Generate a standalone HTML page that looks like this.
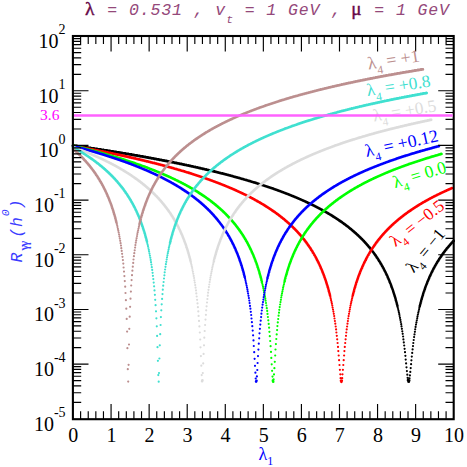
<!DOCTYPE html>
<html><head><meta charset="utf-8"><title>plot</title>
<style>
html,body{margin:0;padding:0;background:#fff;}
svg{display:block;}
text{font-family:"Liberation Serif",serif;}
.m{font-family:"Liberation Mono",monospace;font-style:italic;}
</style></head><body>
<svg width="467" height="467" viewBox="0 0 467 467">
<rect width="467" height="467" fill="#fff"/>
<g fill="none" stroke-width="2.7" stroke-linecap="round">
<path d="M73.0 145.6h0M73.4 145.7h0M73.8 145.7h0M74.1 145.8h0M74.5 145.8h0M74.9 145.9h0M75.3 145.9h0M75.7 146.0h0M76.0 146.1h0M76.4 146.1h0M76.8 146.2h0M77.2 146.2h0M77.6 146.3h0M77.9 146.3h0M78.3 146.4h0M78.7 146.4h0M79.1 146.5h0M79.5 146.5h0M79.9 146.6h0M80.2 146.7h0M80.6 146.7h0M81.0 146.8h0M81.4 146.8h0M81.8 146.9h0M82.1 146.9h0M82.5 147.0h0M82.9 147.0h0M83.3 147.1h0M83.7 147.2h0M84.0 147.2h0M84.4 147.3h0M84.8 147.3h0M85.2 147.4h0M85.6 147.4h0M85.9 147.5h0M86.3 147.5h0M86.7 147.6h0M87.1 147.7h0M87.5 147.7h0M87.8 147.8h0M88.2 147.8h0M88.6 147.9h0M89.0 147.9h0M89.4 148.0h0M89.8 148.1h0M90.1 148.1h0M90.5 148.2h0M90.9 148.2h0M91.3 148.3h0M91.7 148.3h0M92.0 148.4h0M92.4 148.5h0M92.8 148.5h0M93.2 148.6h0M93.6 148.6h0M93.9 148.7h0M94.3 148.7h0M94.7 148.8h0M95.1 148.9h0M95.5 148.9h0M95.8 149.0h0M96.2 149.0h0M96.6 149.1h0M97.0 149.1h0M97.4 149.2h0M97.7 149.3h0M98.1 149.3h0M98.5 149.4h0M98.9 149.4h0M99.3 149.5h0M99.6 149.6h0M100.0 149.6h0M100.4 149.7h0M100.8 149.7h0M101.2 149.8h0M101.6 149.8h0M101.9 149.9h0M102.3 150.0h0M102.7 150.0h0M103.1 150.1h0M103.5 150.1h0M103.8 150.2h0M104.2 150.3h0M104.6 150.3h0M105.0 150.4h0M105.4 150.4h0M105.7 150.5h0M106.1 150.6h0M106.5 150.6h0M106.9 150.7h0M107.3 150.7h0M107.6 150.8h0M108.0 150.9h0M108.4 150.9h0M108.8 151.0h0M109.2 151.0h0M109.5 151.1h0M109.9 151.2h0M110.3 151.2h0M110.7 151.3h0M111.1 151.3h0M111.5 151.4h0M111.8 151.5h0M112.2 151.5h0M112.6 151.6h0M113.0 151.6h0M113.4 151.7h0M113.7 151.8h0M114.1 151.8h0M114.5 151.9h0M114.9 152.0h0M115.3 152.0h0M115.6 152.1h0M116.0 152.1h0M116.4 152.2h0M116.8 152.3h0M117.2 152.3h0M117.5 152.4h0M117.9 152.4h0M118.3 152.5h0M118.7 152.6h0M119.1 152.6h0M119.4 152.7h0M119.8 152.8h0M120.2 152.8h0M120.6 152.9h0M121.0 152.9h0M121.3 153.0h0M121.7 153.1h0M122.1 153.1h0M122.5 153.2h0M122.9 153.3h0M123.3 153.3h0M123.6 153.4h0M124.0 153.5h0M124.4 153.5h0M124.8 153.6h0M125.2 153.6h0M125.5 153.7h0M125.9 153.8h0M126.3 153.8h0M126.7 153.9h0M127.1 154.0h0M127.4 154.0h0M127.8 154.1h0M128.2 154.2h0M128.6 154.2h0M129.0 154.3h0M129.3 154.3h0M129.7 154.4h0M130.1 154.5h0M130.5 154.5h0M130.9 154.6h0M131.2 154.7h0M131.6 154.7h0M132.0 154.8h0M132.4 154.9h0M132.8 154.9h0M133.2 155.0h0M133.5 155.1h0M133.9 155.1h0M134.3 155.2h0M134.7 155.3h0M135.1 155.3h0M135.4 155.4h0M135.8 155.5h0M136.2 155.5h0M136.6 155.6h0M137.0 155.7h0M137.3 155.7h0M137.7 155.8h0M138.1 155.9h0M138.5 155.9h0M138.9 156.0h0M139.2 156.1h0M139.6 156.1h0M140.0 156.2h0M140.4 156.3h0M140.8 156.3h0M141.1 156.4h0M141.5 156.5h0M141.9 156.5h0M142.3 156.6h0M142.7 156.7h0M143.0 156.7h0M143.4 156.8h0M143.8 156.9h0M144.2 156.9h0M144.6 157.0h0M145.0 157.1h0M145.3 157.1h0M145.7 157.2h0M146.1 157.3h0M146.5 157.4h0M146.9 157.4h0M147.2 157.5h0M147.6 157.6h0M148.0 157.6h0M148.4 157.7h0M148.8 157.8h0M149.1 157.8h0M149.5 157.9h0M149.9 158.0h0M150.3 158.0h0M150.7 158.1h0M151.0 158.2h0M151.4 158.3h0M151.8 158.3h0M152.2 158.4h0M152.6 158.5h0M152.9 158.5h0M153.3 158.6h0M153.7 158.7h0M154.1 158.8h0M154.5 158.8h0M154.9 158.9h0M155.2 159.0h0M155.6 159.0h0M156.0 159.1h0M156.4 159.2h0M156.8 159.3h0M157.1 159.3h0M157.5 159.4h0M157.9 159.5h0M158.3 159.5h0M158.7 159.6h0M159.0 159.7h0M159.4 159.8h0M159.8 159.8h0M160.2 159.9h0M160.6 160.0h0M160.9 160.0h0M161.3 160.1h0M161.7 160.2h0M162.1 160.3h0M162.5 160.3h0M162.8 160.4h0M163.2 160.5h0M163.6 160.6h0M164.0 160.6h0M164.4 160.7h0M164.7 160.8h0M165.1 160.9h0M165.5 160.9h0M165.9 161.0h0M166.3 161.1h0M166.7 161.2h0M167.0 161.2h0M167.4 161.3h0M167.8 161.4h0M168.2 161.5h0M168.6 161.5h0M168.9 161.6h0M169.3 161.7h0M169.7 161.8h0M170.1 161.8h0M170.5 161.9h0M170.8 162.0h0M171.2 162.1h0M171.6 162.1h0M172.0 162.2h0M172.4 162.3h0M172.7 162.4h0M173.1 162.4h0M173.5 162.5h0M173.9 162.6h0M174.3 162.7h0M174.6 162.8h0M175.0 162.8h0M175.4 162.9h0M175.8 163.0h0M176.2 163.1h0M176.6 163.1h0M176.9 163.2h0M177.3 163.3h0M177.7 163.4h0M178.1 163.5h0M178.5 163.5h0M178.8 163.6h0M179.2 163.7h0M179.6 163.8h0M180.0 163.8h0M180.4 163.9h0M180.7 164.0h0M181.1 164.1h0M181.5 164.2h0M181.9 164.2h0M182.3 164.3h0M182.6 164.4h0M183.0 164.5h0M183.4 164.6h0M183.8 164.6h0M184.2 164.7h0M184.5 164.8h0M184.9 164.9h0M185.3 165.0h0M185.7 165.0h0M186.1 165.1h0M186.4 165.2h0M186.8 165.3h0M187.2 165.4h0M187.6 165.5h0M188.0 165.5h0M188.4 165.6h0M188.7 165.7h0M189.1 165.8h0M189.5 165.9h0M189.9 165.9h0M190.3 166.0h0M190.6 166.1h0M191.0 166.2h0M191.4 166.3h0M191.8 166.4h0M192.2 166.4h0M192.5 166.5h0M192.9 166.6h0M193.3 166.7h0M193.7 166.8h0M194.1 166.9h0M194.4 167.0h0M194.8 167.0h0M195.2 167.1h0M195.6 167.2h0M196.0 167.3h0M196.3 167.4h0M196.7 167.5h0M197.1 167.5h0M197.5 167.6h0M197.9 167.7h0M198.3 167.8h0M198.6 167.9h0M199.0 168.0h0M199.4 168.1h0M199.8 168.1h0M200.2 168.2h0M200.5 168.3h0M200.9 168.4h0M201.3 168.5h0M201.7 168.6h0M202.1 168.7h0M202.4 168.8h0M202.8 168.8h0M203.2 168.9h0M203.6 169.0h0M204.0 169.1h0M204.3 169.2h0M204.7 169.3h0M205.1 169.4h0M205.5 169.5h0M205.9 169.6h0M206.2 169.6h0M206.6 169.7h0M207.0 169.8h0M207.4 169.9h0M207.8 170.0h0M208.1 170.1h0M208.5 170.2h0M208.9 170.3h0M209.3 170.4h0M209.7 170.5h0M210.1 170.5h0M210.4 170.6h0M210.8 170.7h0M211.2 170.8h0M211.6 170.9h0M212.0 171.0h0M212.3 171.1h0M212.7 171.2h0M213.1 171.3h0M213.5 171.4h0M213.9 171.5h0M214.2 171.6h0M214.6 171.6h0M215.0 171.7h0M215.4 171.8h0M215.8 171.9h0M216.1 172.0h0M216.5 172.1h0M216.9 172.2h0M217.3 172.3h0M217.7 172.4h0M218.0 172.5h0M218.4 172.6h0M218.8 172.7h0M219.2 172.8h0M219.6 172.9h0M220.0 173.0h0M220.3 173.1h0M220.7 173.2h0M221.1 173.3h0M221.5 173.4h0M221.9 173.5h0M222.2 173.5h0M222.6 173.6h0M223.0 173.7h0M223.4 173.8h0M223.8 173.9h0M224.1 174.0h0M224.5 174.1h0M224.9 174.2h0M225.3 174.3h0M225.7 174.4h0M226.0 174.5h0M226.4 174.6h0M226.8 174.7h0M227.2 174.8h0M227.6 174.9h0M227.9 175.0h0M228.3 175.1h0M228.7 175.2h0M229.1 175.3h0M229.5 175.4h0M229.8 175.5h0M230.2 175.6h0M230.6 175.7h0M231.0 175.8h0M231.4 175.9h0M231.8 176.0h0M232.1 176.1h0M232.5 176.2h0M232.9 176.3h0M233.3 176.4h0M233.7 176.6h0M234.0 176.7h0M234.4 176.8h0M234.8 176.9h0M235.2 177.0h0M235.6 177.1h0M235.9 177.2h0M236.3 177.3h0M236.7 177.4h0M237.1 177.5h0M237.5 177.6h0M237.8 177.7h0M238.2 177.8h0M238.6 177.9h0M239.0 178.0h0M239.4 178.1h0M239.7 178.2h0M240.1 178.3h0M240.5 178.4h0M240.9 178.6h0M241.3 178.7h0M241.7 178.8h0M242.0 178.9h0M242.4 179.0h0M242.8 179.1h0M243.2 179.2h0M243.6 179.3h0M243.9 179.4h0M244.3 179.5h0M244.7 179.6h0M245.1 179.8h0M245.5 179.9h0M245.8 180.0h0M246.2 180.1h0M246.6 180.2h0M247.0 180.3h0M247.4 180.4h0M247.7 180.5h0M248.1 180.6h0M248.5 180.8h0M248.9 180.9h0M249.3 181.0h0M249.6 181.1h0M250.0 181.2h0M250.4 181.3h0M250.8 181.4h0M251.2 181.6h0M251.5 181.7h0M251.9 181.8h0M252.3 181.9h0M252.7 182.0h0M253.1 182.1h0M253.5 182.3h0M253.8 182.4h0M254.2 182.5h0M254.6 182.6h0M255.0 182.7h0M255.4 182.8h0M255.7 183.0h0M256.1 183.1h0M256.5 183.2h0M256.9 183.3h0M257.3 183.4h0M257.6 183.6h0M258.0 183.7h0M258.4 183.8h0M258.8 183.9h0M259.2 184.0h0M259.5 184.2h0M259.9 184.3h0M260.3 184.4h0M260.7 184.5h0M261.1 184.6h0M261.4 184.8h0M261.8 184.9h0M262.2 185.0h0M262.6 185.1h0M263.0 185.3h0M263.4 185.4h0M263.7 185.5h0M264.1 185.6h0M264.5 185.8h0M264.9 185.9h0M265.3 186.0h0M265.6 186.1h0M266.0 186.3h0M266.4 186.4h0M266.8 186.5h0M267.2 186.6h0M267.5 186.8h0M267.9 186.9h0M268.3 187.0h0M268.7 187.2h0M269.1 187.3h0M269.4 187.4h0M269.8 187.5h0M270.2 187.7h0M270.6 187.8h0M271.0 187.9h0M271.3 188.1h0M271.7 188.2h0M272.1 188.3h0M272.5 188.5h0M272.9 188.6h0M273.2 188.7h0M273.6 188.9h0M274.0 189.0h0M274.4 189.1h0M274.8 189.3h0M275.2 189.4h0M275.5 189.5h0M275.9 189.7h0M276.3 189.8h0M276.7 189.9h0M277.1 190.1h0M277.4 190.2h0M277.8 190.4h0M278.2 190.5h0M278.6 190.6h0M279.0 190.8h0M279.3 190.9h0M279.7 191.1h0M280.1 191.2h0M280.5 191.3h0M280.9 191.5h0M281.2 191.6h0M281.6 191.8h0M282.0 191.9h0M282.4 192.0h0M282.8 192.2h0M283.1 192.3h0M283.5 192.5h0M283.9 192.6h0M284.3 192.8h0M284.7 192.9h0M285.0 193.1h0M285.4 193.2h0M285.8 193.4h0M286.2 193.5h0M286.6 193.6h0M287.0 193.8h0M287.3 193.9h0M287.7 194.1h0M288.1 194.2h0M288.5 194.4h0M288.9 194.5h0M289.2 194.7h0M289.6 194.8h0M290.0 195.0h0M290.4 195.2h0M290.8 195.3h0M291.1 195.5h0M291.5 195.6h0M291.9 195.8h0M292.3 195.9h0M292.7 196.1h0M293.0 196.2h0M293.4 196.4h0M293.8 196.5h0M294.2 196.7h0M294.6 196.9h0M294.9 197.0h0M295.3 197.2h0M295.7 197.3h0M296.1 197.5h0M296.5 197.7h0M296.9 197.8h0M297.2 198.0h0M297.6 198.2h0M298.0 198.3h0M298.4 198.5h0M298.8 198.6h0M299.1 198.8h0M299.5 199.0h0M299.9 199.1h0M300.3 199.3h0M300.7 199.5h0M301.0 199.6h0M301.4 199.8h0M301.8 200.0h0M302.2 200.1h0M302.6 200.3h0M302.9 200.5h0M303.3 200.7h0M303.7 200.8h0M304.1 201.0h0M304.5 201.2h0M304.8 201.3h0M305.2 201.5h0M305.6 201.7h0M306.0 201.9h0M306.4 202.1h0M306.7 202.2h0M307.1 202.4h0M307.5 202.6h0M307.9 202.8h0M308.3 202.9h0M308.7 203.1h0M309.0 203.3h0M309.4 203.5h0M309.8 203.7h0M310.2 203.9h0M310.6 204.0h0M310.9 204.2h0M311.3 204.4h0M311.7 204.6h0M312.1 204.8h0M312.5 205.0h0M312.8 205.2h0M313.2 205.3h0M313.6 205.5h0M314.0 205.7h0M314.4 205.9h0M314.7 206.1h0M315.1 206.3h0M315.5 206.5h0M315.9 206.7h0M316.3 206.9h0M316.6 207.1h0M317.0 207.3h0M317.4 207.5h0M317.8 207.7h0M318.2 207.9h0M318.6 208.1h0M318.9 208.3h0M319.3 208.5h0M319.7 208.7h0M320.1 208.9h0M320.5 209.1h0M320.8 209.3h0M321.2 209.5h0M321.6 209.7h0M322.0 209.9h0M322.4 210.1h0M322.7 210.3h0M323.1 210.5h0M323.5 210.8h0M323.9 211.0h0M324.3 211.2h0M324.6 211.4h0M325.0 211.6h0M325.4 211.8h0M325.8 212.0h0M326.2 212.3h0M326.5 212.5h0M326.9 212.7h0M327.3 212.9h0M327.7 213.1h0M328.1 213.4h0M328.4 213.6h0M328.8 213.8h0M329.2 214.0h0M329.6 214.3h0M330.0 214.5h0M330.4 214.7h0M330.7 215.0h0M331.1 215.2h0M331.5 215.4h0M331.9 215.7h0M332.3 215.9h0M332.6 216.1h0M333.0 216.4h0M333.4 216.6h0M333.8 216.9h0M334.2 217.1h0M334.5 217.3h0M334.9 217.6h0M335.3 217.8h0M335.7 218.1h0M336.1 218.3h0M336.4 218.6h0M336.8 218.8h0M337.2 219.1h0M337.6 219.3h0M338.0 219.6h0M338.3 219.8h0M338.7 220.1h0M339.1 220.4h0M339.5 220.6h0M339.9 220.9h0M340.3 221.1h0M340.6 221.4h0M341.0 221.7h0M341.4 221.9h0M341.8 222.2h0M342.2 222.5h0M342.5 222.8h0M342.9 223.0h0M343.3 223.3h0M343.7 223.6h0M344.1 223.9h0M344.4 224.1h0M344.8 224.4h0M345.2 224.7h0M345.6 225.0h0M346.0 225.3h0M346.3 225.6h0M346.7 225.9h0M347.1 226.2h0M347.5 226.5h0M347.9 226.7h0M348.2 227.0h0M348.6 227.3h0M349.0 227.6h0M349.4 228.0h0M349.8 228.3h0M350.1 228.6h0M350.5 228.9h0M350.9 229.2h0M351.3 229.5h0M351.7 229.8h0M352.1 230.1h0M352.4 230.5h0M352.8 230.8h0M353.2 231.1h0M353.6 231.4h0M354.0 231.8h0M354.3 232.1h0M354.7 232.4h0M355.1 232.8h0M355.5 233.1h0M355.9 233.4h0M356.2 233.8h0M356.6 234.1h0M357.0 234.5h0M357.4 234.8h0M357.8 235.2h0M358.1 235.5h0M358.5 235.9h0M358.9 236.3h0M359.3 236.6h0M359.7 237.0h0M360.0 237.4h0M360.4 237.7h0M360.8 238.1h0M361.2 238.5h0M361.6 238.9h0M362.0 239.2h0M362.3 239.6h0M362.7 240.0h0M363.1 240.4h0M363.5 240.8h0M363.9 241.2h0M364.2 241.6h0M364.6 242.0h0M365.0 242.4h0M365.4 242.9h0M365.8 243.3h0M366.1 243.7h0M366.5 244.1h0M366.9 244.6h0M367.3 245.0h0M367.7 245.4h0M368.0 245.9h0M368.4 246.3h0M368.8 246.8h0M369.2 247.2h0M369.6 247.7h0M369.9 248.1h0M370.3 248.6h0M370.7 249.1h0M371.1 249.6h0M371.5 250.0h0M371.8 250.5h0M372.2 251.0h0M372.6 251.5h0M373.0 252.0h0M373.4 252.5h0M373.8 253.0h0M374.1 253.6h0M374.5 254.1h0M374.9 254.6h0M375.3 255.2h0M375.7 255.7h0M376.0 256.2h0M376.4 256.8h0M376.8 257.4h0M377.2 257.9h0M377.6 258.5h0M377.9 259.1h0M378.3 259.7h0M378.7 260.3h0M379.1 260.9h0M379.5 261.5h0M379.8 262.1h0M380.2 262.7h0M380.6 263.4h0M381.0 264.0h0M381.4 264.7h0M381.7 265.3h0M382.1 266.0h0M382.5 266.7h0M382.9 267.4h0M383.3 268.1h0M383.7 268.8h0M384.0 269.5h0M384.4 270.3h0M384.8 271.0h0M385.2 271.8h0M385.6 272.5h0M385.9 273.3h0M386.3 274.1h0M386.7 274.9h0M387.1 275.7h0M387.5 276.6h0M387.8 277.4h0M388.2 278.3h0M388.6 279.2h0M389.0 280.1h0M389.4 281.0h0M389.7 281.9h0M390.1 282.9h0M390.5 283.8h0M390.9 284.8h0M391.3 285.9h0M391.6 286.9h0M392.0 287.9h0M392.4 289.0h0M392.8 290.1h0M393.2 291.3h0M393.5 292.4h0M393.9 293.6h0M394.3 294.8h0M394.7 296.1h0M395.1 297.3h0M395.5 298.7h0M395.8 300.0h0M396.2 301.4h0M396.6 302.8h0M397.0 304.3h0M397.4 305.8h0M408.0 380.2h0M408.4 381.6h0M408.8 381.7h0M409.2 380.6h0M419.8 306.1h0M420.2 304.6h0M420.6 303.1h0M421.0 301.7h0M421.3 300.3h0M421.7 298.9h0M422.1 297.6h0M422.5 296.3h0M422.9 295.1h0M423.2 293.8h0M423.6 292.6h0M424.0 291.5h0M424.4 290.4h0M424.8 289.2h0M425.1 288.2h0M425.5 287.1h0M425.9 286.1h0M426.3 285.0h0M426.7 284.0h0M427.1 283.1h0M427.4 282.1h0M427.8 281.2h0M428.2 280.3h0M428.6 279.4h0M429.0 278.5h0M429.3 277.6h0M429.7 276.7h0M430.1 275.9h0M430.5 275.1h0M430.9 274.3h0M431.2 273.5h0M431.6 272.7h0M432.0 271.9h0M432.4 271.2h0M432.8 270.4h0M433.1 269.7h0M433.5 268.9h0M433.9 268.2h0M434.3 267.5h0M434.7 266.8h0M435.0 266.1h0M435.4 265.5h0M435.8 264.8h0M436.2 264.2h0M436.6 263.5h0M436.9 262.9h0M437.3 262.2h0M437.7 261.6h0M438.1 261.0h0M438.5 260.4h0M438.9 259.8h0M439.2 259.2h0M439.6 258.6h0M440.0 258.0h0M440.4 257.5h0M440.8 256.9h0M441.1 256.4h0M441.5 255.8h0M441.9 255.3h0M442.3 254.7h0M442.7 254.2h0M443.0 253.7h0M443.4 253.1h0M443.8 252.6h0M444.2 252.1h0M444.6 251.6h0M444.9 251.1h0M445.3 250.6h0M445.7 250.1h0M446.1 249.7h0M446.5 249.2h0M446.8 248.7h0M447.2 248.2h0M447.6 247.8h0M448.0 247.3h0M448.4 246.9h0M448.8 246.4h0M449.1 246.0h0M449.5 245.5h0M449.9 245.1h0M450.3 244.6h0M450.7 244.2h0M451.0 243.8h0M451.4 243.4h0M451.8 242.9h0M452.2 242.5h0M452.6 242.1h0M452.9 241.7h0M453.3 241.3h0M453.7 240.9h0" stroke="#000000"/>
<path d="M397.7 307.4h0M398.1 309.0h0M398.5 310.7h0M398.9 312.4h0M399.3 314.2h0M399.6 316.0h0M400.0 317.9h0M400.4 319.9h0M400.8 322.0h0M401.2 324.2h0M401.5 326.4h0M401.9 328.8h0M402.3 331.3h0M402.7 333.8h0M403.1 336.5h0M403.4 339.4h0M403.8 342.4h0M404.2 345.5h0M404.6 348.8h0M405.0 352.2h0M405.4 355.8h0M405.7 359.6h0M406.1 363.4h0M406.5 367.3h0M406.9 371.1h0M407.3 374.7h0M407.6 377.8h0M409.5 378.4h0M409.9 375.4h0M410.3 371.9h0M410.7 368.1h0M411.1 364.2h0M411.4 360.3h0M411.8 356.6h0M412.2 352.9h0M412.6 349.4h0M413.0 346.1h0M413.3 343.0h0M413.7 340.0h0M414.1 337.1h0M414.5 334.4h0M414.9 331.8h0M415.2 329.3h0M415.6 326.9h0M416.0 324.6h0M416.4 322.4h0M416.8 320.3h0M417.2 318.3h0M417.5 316.4h0M417.9 314.5h0M418.3 312.7h0M418.7 311.0h0M419.1 309.3h0M419.4 307.7h0" stroke="#000000" stroke-width="2.2"/>
<path d="M73.0 146.1h0M73.4 146.1h0M73.8 146.2h0M74.1 146.3h0M74.5 146.3h0M74.9 146.4h0M75.3 146.5h0M75.7 146.5h0M76.0 146.6h0M76.4 146.7h0M76.8 146.7h0M77.2 146.8h0M77.6 146.9h0M77.9 146.9h0M78.3 147.0h0M78.7 147.1h0M79.1 147.2h0M79.5 147.2h0M79.9 147.3h0M80.2 147.4h0M80.6 147.4h0M81.0 147.5h0M81.4 147.6h0M81.8 147.6h0M82.1 147.7h0M82.5 147.8h0M82.9 147.8h0M83.3 147.9h0M83.7 148.0h0M84.0 148.1h0M84.4 148.1h0M84.8 148.2h0M85.2 148.3h0M85.6 148.3h0M85.9 148.4h0M86.3 148.5h0M86.7 148.6h0M87.1 148.6h0M87.5 148.7h0M87.8 148.8h0M88.2 148.8h0M88.6 148.9h0M89.0 149.0h0M89.4 149.1h0M89.8 149.1h0M90.1 149.2h0M90.5 149.3h0M90.9 149.3h0M91.3 149.4h0M91.7 149.5h0M92.0 149.6h0M92.4 149.6h0M92.8 149.7h0M93.2 149.8h0M93.6 149.8h0M93.9 149.9h0M94.3 150.0h0M94.7 150.1h0M95.1 150.1h0M95.5 150.2h0M95.8 150.3h0M96.2 150.4h0M96.6 150.4h0M97.0 150.5h0M97.4 150.6h0M97.7 150.7h0M98.1 150.7h0M98.5 150.8h0M98.9 150.9h0M99.3 151.0h0M99.6 151.0h0M100.0 151.1h0M100.4 151.2h0M100.8 151.3h0M101.2 151.3h0M101.6 151.4h0M101.9 151.5h0M102.3 151.6h0M102.7 151.6h0M103.1 151.7h0M103.5 151.8h0M103.8 151.9h0M104.2 151.9h0M104.6 152.0h0M105.0 152.1h0M105.4 152.2h0M105.7 152.2h0M106.1 152.3h0M106.5 152.4h0M106.9 152.5h0M107.3 152.5h0M107.6 152.6h0M108.0 152.7h0M108.4 152.8h0M108.8 152.9h0M109.2 152.9h0M109.5 153.0h0M109.9 153.1h0M110.3 153.2h0M110.7 153.2h0M111.1 153.3h0M111.5 153.4h0M111.8 153.5h0M112.2 153.6h0M112.6 153.6h0M113.0 153.7h0M113.4 153.8h0M113.7 153.9h0M114.1 154.0h0M114.5 154.0h0M114.9 154.1h0M115.3 154.2h0M115.6 154.3h0M116.0 154.4h0M116.4 154.4h0M116.8 154.5h0M117.2 154.6h0M117.5 154.7h0M117.9 154.8h0M118.3 154.8h0M118.7 154.9h0M119.1 155.0h0M119.4 155.1h0M119.8 155.2h0M120.2 155.2h0M120.6 155.3h0M121.0 155.4h0M121.3 155.5h0M121.7 155.6h0M122.1 155.7h0M122.5 155.7h0M122.9 155.8h0M123.3 155.9h0M123.6 156.0h0M124.0 156.1h0M124.4 156.2h0M124.8 156.2h0M125.2 156.3h0M125.5 156.4h0M125.9 156.5h0M126.3 156.6h0M126.7 156.7h0M127.1 156.7h0M127.4 156.8h0M127.8 156.9h0M128.2 157.0h0M128.6 157.1h0M129.0 157.2h0M129.3 157.3h0M129.7 157.3h0M130.1 157.4h0M130.5 157.5h0M130.9 157.6h0M131.2 157.7h0M131.6 157.8h0M132.0 157.9h0M132.4 157.9h0M132.8 158.0h0M133.2 158.1h0M133.5 158.2h0M133.9 158.3h0M134.3 158.4h0M134.7 158.5h0M135.1 158.5h0M135.4 158.6h0M135.8 158.7h0M136.2 158.8h0M136.6 158.9h0M137.0 159.0h0M137.3 159.1h0M137.7 159.2h0M138.1 159.3h0M138.5 159.3h0M138.9 159.4h0M139.2 159.5h0M139.6 159.6h0M140.0 159.7h0M140.4 159.8h0M140.8 159.9h0M141.1 160.0h0M141.5 160.1h0M141.9 160.2h0M142.3 160.2h0M142.7 160.3h0M143.0 160.4h0M143.4 160.5h0M143.8 160.6h0M144.2 160.7h0M144.6 160.8h0M145.0 160.9h0M145.3 161.0h0M145.7 161.1h0M146.1 161.2h0M146.5 161.3h0M146.9 161.3h0M147.2 161.4h0M147.6 161.5h0M148.0 161.6h0M148.4 161.7h0M148.8 161.8h0M149.1 161.9h0M149.5 162.0h0M149.9 162.1h0M150.3 162.2h0M150.7 162.3h0M151.0 162.4h0M151.4 162.5h0M151.8 162.6h0M152.2 162.7h0M152.6 162.8h0M152.9 162.9h0M153.3 163.0h0M153.7 163.0h0M154.1 163.1h0M154.5 163.2h0M154.9 163.3h0M155.2 163.4h0M155.6 163.5h0M156.0 163.6h0M156.4 163.7h0M156.8 163.8h0M157.1 163.9h0M157.5 164.0h0M157.9 164.1h0M158.3 164.2h0M158.7 164.3h0M159.0 164.4h0M159.4 164.5h0M159.8 164.6h0M160.2 164.7h0M160.6 164.8h0M160.9 164.9h0M161.3 165.0h0M161.7 165.1h0M162.1 165.2h0M162.5 165.3h0M162.8 165.4h0M163.2 165.5h0M163.6 165.6h0M164.0 165.7h0M164.4 165.8h0M164.7 165.9h0M165.1 166.0h0M165.5 166.1h0M165.9 166.2h0M166.3 166.3h0M166.7 166.4h0M167.0 166.5h0M167.4 166.6h0M167.8 166.8h0M168.2 166.9h0M168.6 167.0h0M168.9 167.1h0M169.3 167.2h0M169.7 167.3h0M170.1 167.4h0M170.5 167.5h0M170.8 167.6h0M171.2 167.7h0M171.6 167.8h0M172.0 167.9h0M172.4 168.0h0M172.7 168.1h0M173.1 168.2h0M173.5 168.3h0M173.9 168.4h0M174.3 168.6h0M174.6 168.7h0M175.0 168.8h0M175.4 168.9h0M175.8 169.0h0M176.2 169.1h0M176.6 169.2h0M176.9 169.3h0M177.3 169.4h0M177.7 169.5h0M178.1 169.6h0M178.5 169.8h0M178.8 169.9h0M179.2 170.0h0M179.6 170.1h0M180.0 170.2h0M180.4 170.3h0M180.7 170.4h0M181.1 170.5h0M181.5 170.7h0M181.9 170.8h0M182.3 170.9h0M182.6 171.0h0M183.0 171.1h0M183.4 171.2h0M183.8 171.3h0M184.2 171.5h0M184.5 171.6h0M184.9 171.7h0M185.3 171.8h0M185.7 171.9h0M186.1 172.0h0M186.4 172.1h0M186.8 172.3h0M187.2 172.4h0M187.6 172.5h0M188.0 172.6h0M188.4 172.7h0M188.7 172.9h0M189.1 173.0h0M189.5 173.1h0M189.9 173.2h0M190.3 173.3h0M190.6 173.5h0M191.0 173.6h0M191.4 173.7h0M191.8 173.8h0M192.2 173.9h0M192.5 174.1h0M192.9 174.2h0M193.3 174.3h0M193.7 174.4h0M194.1 174.5h0M194.4 174.7h0M194.8 174.8h0M195.2 174.9h0M195.6 175.0h0M196.0 175.2h0M196.3 175.3h0M196.7 175.4h0M197.1 175.5h0M197.5 175.7h0M197.9 175.8h0M198.3 175.9h0M198.6 176.0h0M199.0 176.2h0M199.4 176.3h0M199.8 176.4h0M200.2 176.5h0M200.5 176.7h0M200.9 176.8h0M201.3 176.9h0M201.7 177.1h0M202.1 177.2h0M202.4 177.3h0M202.8 177.5h0M203.2 177.6h0M203.6 177.7h0M204.0 177.8h0M204.3 178.0h0M204.7 178.1h0M205.1 178.2h0M205.5 178.4h0M205.9 178.5h0M206.2 178.6h0M206.6 178.8h0M207.0 178.9h0M207.4 179.0h0M207.8 179.2h0M208.1 179.3h0M208.5 179.4h0M208.9 179.6h0M209.3 179.7h0M209.7 179.9h0M210.1 180.0h0M210.4 180.1h0M210.8 180.3h0M211.2 180.4h0M211.6 180.5h0M212.0 180.7h0M212.3 180.8h0M212.7 181.0h0M213.1 181.1h0M213.5 181.3h0M213.9 181.4h0M214.2 181.5h0M214.6 181.7h0M215.0 181.8h0M215.4 182.0h0M215.8 182.1h0M216.1 182.3h0M216.5 182.4h0M216.9 182.5h0M217.3 182.7h0M217.7 182.8h0M218.0 183.0h0M218.4 183.1h0M218.8 183.3h0M219.2 183.4h0M219.6 183.6h0M220.0 183.7h0M220.3 183.9h0M220.7 184.0h0M221.1 184.2h0M221.5 184.3h0M221.9 184.5h0M222.2 184.6h0M222.6 184.8h0M223.0 184.9h0M223.4 185.1h0M223.8 185.2h0M224.1 185.4h0M224.5 185.5h0M224.9 185.7h0M225.3 185.8h0M225.7 186.0h0M226.0 186.2h0M226.4 186.3h0M226.8 186.5h0M227.2 186.6h0M227.6 186.8h0M227.9 186.9h0M228.3 187.1h0M228.7 187.3h0M229.1 187.4h0M229.5 187.6h0M229.8 187.8h0M230.2 187.9h0M230.6 188.1h0M231.0 188.2h0M231.4 188.4h0M231.8 188.6h0M232.1 188.7h0M232.5 188.9h0M232.9 189.1h0M233.3 189.2h0M233.7 189.4h0M234.0 189.6h0M234.4 189.7h0M234.8 189.9h0M235.2 190.1h0M235.6 190.2h0M235.9 190.4h0M236.3 190.6h0M236.7 190.8h0M237.1 190.9h0M237.5 191.1h0M237.8 191.3h0M238.2 191.5h0M238.6 191.6h0M239.0 191.8h0M239.4 192.0h0M239.7 192.2h0M240.1 192.3h0M240.5 192.5h0M240.9 192.7h0M241.3 192.9h0M241.7 193.1h0M242.0 193.2h0M242.4 193.4h0M242.8 193.6h0M243.2 193.8h0M243.6 194.0h0M243.9 194.2h0M244.3 194.3h0M244.7 194.5h0M245.1 194.7h0M245.5 194.9h0M245.8 195.1h0M246.2 195.3h0M246.6 195.5h0M247.0 195.7h0M247.4 195.9h0M247.7 196.1h0M248.1 196.2h0M248.5 196.4h0M248.9 196.6h0M249.3 196.8h0M249.6 197.0h0M250.0 197.2h0M250.4 197.4h0M250.8 197.6h0M251.2 197.8h0M251.5 198.0h0M251.9 198.2h0M252.3 198.4h0M252.7 198.6h0M253.1 198.8h0M253.5 199.0h0M253.8 199.2h0M254.2 199.5h0M254.6 199.7h0M255.0 199.9h0M255.4 200.1h0M255.7 200.3h0M256.1 200.5h0M256.5 200.7h0M256.9 200.9h0M257.3 201.1h0M257.6 201.4h0M258.0 201.6h0M258.4 201.8h0M258.8 202.0h0M259.2 202.2h0M259.5 202.4h0M259.9 202.7h0M260.3 202.9h0M260.7 203.1h0M261.1 203.3h0M261.4 203.6h0M261.8 203.8h0M262.2 204.0h0M262.6 204.2h0M263.0 204.5h0M263.4 204.7h0M263.7 204.9h0M264.1 205.2h0M264.5 205.4h0M264.9 205.6h0M265.3 205.9h0M265.6 206.1h0M266.0 206.4h0M266.4 206.6h0M266.8 206.8h0M267.2 207.1h0M267.5 207.3h0M267.9 207.6h0M268.3 207.8h0M268.7 208.1h0M269.1 208.3h0M269.4 208.6h0M269.8 208.8h0M270.2 209.1h0M270.6 209.3h0M271.0 209.6h0M271.3 209.8h0M271.7 210.1h0M272.1 210.4h0M272.5 210.6h0M272.9 210.9h0M273.2 211.1h0M273.6 211.4h0M274.0 211.7h0M274.4 211.9h0M274.8 212.2h0M275.2 212.5h0M275.5 212.8h0M275.9 213.0h0M276.3 213.3h0M276.7 213.6h0M277.1 213.9h0M277.4 214.2h0M277.8 214.4h0M278.2 214.7h0M278.6 215.0h0M279.0 215.3h0M279.3 215.6h0M279.7 215.9h0M280.1 216.2h0M280.5 216.5h0M280.9 216.8h0M281.2 217.1h0M281.6 217.4h0M282.0 217.7h0M282.4 218.0h0M282.8 218.3h0M283.1 218.6h0M283.5 218.9h0M283.9 219.2h0M284.3 219.5h0M284.7 219.8h0M285.0 220.2h0M285.4 220.5h0M285.8 220.8h0M286.2 221.1h0M286.6 221.5h0M287.0 221.8h0M287.3 222.1h0M287.7 222.5h0M288.1 222.8h0M288.5 223.1h0M288.9 223.5h0M289.2 223.8h0M289.6 224.2h0M290.0 224.5h0M290.4 224.9h0M290.8 225.2h0M291.1 225.6h0M291.5 226.0h0M291.9 226.3h0M292.3 226.7h0M292.7 227.0h0M293.0 227.4h0M293.4 227.8h0M293.8 228.2h0M294.2 228.6h0M294.6 228.9h0M294.9 229.3h0M295.3 229.7h0M295.7 230.1h0M296.1 230.5h0M296.5 230.9h0M296.9 231.3h0M297.2 231.7h0M297.6 232.1h0M298.0 232.5h0M298.4 233.0h0M298.8 233.4h0M299.1 233.8h0M299.5 234.2h0M299.9 234.7h0M300.3 235.1h0M300.7 235.5h0M301.0 236.0h0M301.4 236.4h0M301.8 236.9h0M302.2 237.3h0M302.6 237.8h0M302.9 238.3h0M303.3 238.8h0M303.7 239.2h0M304.1 239.7h0M304.5 240.2h0M304.8 240.7h0M305.2 241.2h0M305.6 241.7h0M306.0 242.2h0M306.4 242.7h0M306.7 243.2h0M307.1 243.7h0M307.5 244.3h0M307.9 244.8h0M308.3 245.3h0M308.7 245.9h0M309.0 246.4h0M309.4 247.0h0M309.8 247.6h0M310.2 248.1h0M310.6 248.7h0M310.9 249.3h0M311.3 249.9h0M311.7 250.5h0M312.1 251.1h0M312.5 251.7h0M312.8 252.4h0M313.2 253.0h0M313.6 253.6h0M314.0 254.3h0M314.4 255.0h0M314.7 255.6h0M315.1 256.3h0M315.5 257.0h0M315.9 257.7h0M316.3 258.4h0M316.6 259.1h0M317.0 259.9h0M317.4 260.6h0M317.8 261.4h0M318.2 262.1h0M318.6 262.9h0M318.9 263.7h0M319.3 264.5h0M319.7 265.3h0M320.1 266.2h0M320.5 267.0h0M320.8 267.9h0M321.2 268.8h0M321.6 269.6h0M322.0 270.6h0M322.4 271.5h0M322.7 272.4h0M323.1 273.4h0M323.5 274.4h0M323.9 275.4h0M324.3 276.4h0M324.6 277.5h0M325.0 278.6h0M325.4 279.7h0M325.8 280.8h0M326.2 282.0h0M326.5 283.1h0M326.9 284.4h0M327.3 285.6h0M327.7 286.9h0M328.1 288.2h0M328.4 289.5h0M328.8 290.9h0M329.2 292.4h0M329.6 293.8h0M330.0 295.3h0M341.0 380.8h0M341.4 381.8h0M341.8 380.8h0M352.8 295.3h0M353.2 293.8h0M353.6 292.4h0M354.0 290.9h0M354.3 289.5h0M354.7 288.2h0M355.1 286.9h0M355.5 285.6h0M355.9 284.4h0M356.2 283.1h0M356.6 282.0h0M357.0 280.8h0M357.4 279.7h0M357.8 278.6h0M358.1 277.5h0M358.5 276.4h0M358.9 275.4h0M359.3 274.4h0M359.7 273.4h0M360.0 272.4h0M360.4 271.5h0M360.8 270.6h0M361.2 269.6h0M361.6 268.8h0M362.0 267.9h0M362.3 267.0h0M362.7 266.2h0M363.1 265.3h0M363.5 264.5h0M363.9 263.7h0M364.2 262.9h0M364.6 262.1h0M365.0 261.4h0M365.4 260.6h0M365.8 259.9h0M366.1 259.1h0M366.5 258.4h0M366.9 257.7h0M367.3 257.0h0M367.7 256.3h0M368.0 255.6h0M368.4 255.0h0M368.8 254.3h0M369.2 253.6h0M369.6 253.0h0M369.9 252.4h0M370.3 251.7h0M370.7 251.1h0M371.1 250.5h0M371.5 249.9h0M371.8 249.3h0M372.2 248.7h0M372.6 248.1h0M373.0 247.6h0M373.4 247.0h0M373.8 246.4h0M374.1 245.9h0M374.5 245.3h0M374.9 244.8h0M375.3 244.3h0M375.7 243.7h0M376.0 243.2h0M376.4 242.7h0M376.8 242.2h0M377.2 241.7h0M377.6 241.2h0M377.9 240.7h0M378.3 240.2h0M378.7 239.7h0M379.1 239.2h0M379.5 238.8h0M379.8 238.3h0M380.2 237.8h0M380.6 237.3h0M381.0 236.9h0M381.4 236.4h0M381.7 236.0h0M382.1 235.5h0M382.5 235.1h0M382.9 234.7h0M383.3 234.2h0M383.7 233.8h0M384.0 233.4h0M384.4 233.0h0M384.8 232.5h0M385.2 232.1h0M385.6 231.7h0M385.9 231.3h0M386.3 230.9h0M386.7 230.5h0M387.1 230.1h0M387.5 229.7h0M387.8 229.3h0M388.2 228.9h0M388.6 228.6h0M389.0 228.2h0M389.4 227.8h0M389.7 227.4h0M390.1 227.0h0M390.5 226.7h0M390.9 226.3h0M391.3 226.0h0M391.6 225.6h0M392.0 225.2h0M392.4 224.9h0M392.8 224.5h0M393.2 224.2h0M393.5 223.8h0M393.9 223.5h0M394.3 223.1h0M394.7 222.8h0M395.1 222.5h0M395.5 222.1h0M395.8 221.8h0M396.2 221.5h0M396.6 221.1h0M397.0 220.8h0M397.4 220.5h0M397.7 220.2h0M398.1 219.8h0M398.5 219.5h0M398.9 219.2h0M399.3 218.9h0M399.6 218.6h0M400.0 218.3h0M400.4 218.0h0M400.8 217.7h0M401.2 217.4h0M401.5 217.1h0M401.9 216.8h0M402.3 216.5h0M402.7 216.2h0M403.1 215.9h0M403.4 215.6h0M403.8 215.3h0M404.2 215.0h0M404.6 214.7h0M405.0 214.4h0M405.4 214.2h0M405.7 213.9h0M406.1 213.6h0M406.5 213.3h0M406.9 213.0h0M407.3 212.8h0M407.6 212.5h0M408.0 212.2h0M408.4 211.9h0M408.8 211.7h0M409.2 211.4h0M409.5 211.1h0M409.9 210.9h0M410.3 210.6h0M410.7 210.4h0M411.1 210.1h0M411.4 209.8h0M411.8 209.6h0M412.2 209.3h0M412.6 209.1h0M413.0 208.8h0M413.3 208.6h0M413.7 208.3h0M414.1 208.1h0M414.5 207.8h0M414.9 207.6h0M415.2 207.3h0M415.6 207.1h0M416.0 206.8h0M416.4 206.6h0M416.8 206.4h0M417.2 206.1h0M417.5 205.9h0M417.9 205.6h0M418.3 205.4h0M418.7 205.2h0M419.1 204.9h0M419.4 204.7h0M419.8 204.5h0M420.2 204.2h0M420.6 204.0h0M421.0 203.8h0M421.3 203.6h0M421.7 203.3h0M422.1 203.1h0M422.5 202.9h0M422.9 202.7h0M423.2 202.4h0M423.6 202.2h0M424.0 202.0h0M424.4 201.8h0M424.8 201.6h0M425.1 201.4h0M425.5 201.1h0M425.9 200.9h0M426.3 200.7h0M426.7 200.5h0M427.1 200.3h0M427.4 200.1h0M427.8 199.9h0M428.2 199.7h0M428.6 199.5h0M429.0 199.2h0M429.3 199.0h0M429.7 198.8h0M430.1 198.6h0M430.5 198.4h0M430.9 198.2h0M431.2 198.0h0M431.6 197.8h0M432.0 197.6h0M432.4 197.4h0M432.8 197.2h0M433.1 197.0h0M433.5 196.8h0M433.9 196.6h0M434.3 196.4h0M434.7 196.2h0M435.0 196.1h0M435.4 195.9h0M435.8 195.7h0M436.2 195.5h0M436.6 195.3h0M436.9 195.1h0M437.3 194.9h0M437.7 194.7h0M438.1 194.5h0M438.5 194.3h0M438.9 194.2h0M439.2 194.0h0M439.6 193.8h0M440.0 193.6h0M440.4 193.4h0M440.8 193.2h0M441.1 193.1h0M441.5 192.9h0M441.9 192.7h0M442.3 192.5h0M442.7 192.3h0M443.0 192.2h0M443.4 192.0h0M443.8 191.8h0M444.2 191.6h0M444.6 191.5h0M444.9 191.3h0M445.3 191.1h0M445.7 190.9h0M446.1 190.8h0M446.5 190.6h0M446.8 190.4h0M447.2 190.2h0M447.6 190.1h0M448.0 189.9h0M448.4 189.7h0M448.8 189.6h0M449.1 189.4h0M449.5 189.2h0M449.9 189.1h0M450.3 188.9h0M450.7 188.7h0M451.0 188.6h0M451.4 188.4h0M451.8 188.2h0" stroke="#ff0000"/>
<path d="M330.4 296.9h0M330.7 298.5h0M331.1 300.2h0M331.5 301.9h0M331.9 303.7h0M332.3 305.6h0M332.6 307.5h0M333.0 309.5h0M333.4 311.6h0M333.8 313.8h0M334.2 316.1h0M334.5 318.5h0M334.9 321.0h0M335.3 323.7h0M335.7 326.5h0M336.1 329.4h0M336.4 332.5h0M336.8 335.8h0M337.2 339.3h0M337.6 343.0h0M338.0 346.9h0M338.3 351.1h0M338.7 355.5h0M339.1 360.2h0M339.5 365.0h0M339.9 369.8h0M340.3 374.3h0M340.6 378.2h0M342.2 378.2h0M342.5 374.3h0M342.9 369.8h0M343.3 365.0h0M343.7 360.2h0M344.1 355.5h0M344.4 351.1h0M344.8 346.9h0M345.2 343.0h0M345.6 339.3h0M346.0 335.8h0M346.3 332.5h0M346.7 329.4h0M347.1 326.5h0M347.5 323.7h0M347.9 321.0h0M348.2 318.5h0M348.6 316.1h0M349.0 313.8h0M349.4 311.6h0M349.8 309.5h0M350.1 307.5h0M350.5 305.6h0M350.9 303.7h0M351.3 301.9h0M351.7 300.2h0M352.1 298.5h0M352.4 296.9h0" stroke="#ff0000" stroke-width="2.2"/>
<path d="M73.0 145.7h0M73.4 145.8h0M73.8 145.9h0M74.1 146.0h0M74.5 146.1h0M74.9 146.2h0M75.3 146.3h0M75.7 146.4h0M76.0 146.5h0M76.4 146.6h0M76.8 146.7h0M77.2 146.7h0M77.6 146.8h0M77.9 146.9h0M78.3 147.0h0M78.7 147.1h0M79.1 147.2h0M79.5 147.3h0M79.9 147.4h0M80.2 147.5h0M80.6 147.6h0M81.0 147.7h0M81.4 147.8h0M81.8 147.9h0M82.1 148.0h0M82.5 148.1h0M82.9 148.1h0M83.3 148.2h0M83.7 148.3h0M84.0 148.4h0M84.4 148.5h0M84.8 148.6h0M85.2 148.7h0M85.6 148.8h0M85.9 148.9h0M86.3 149.0h0M86.7 149.1h0M87.1 149.2h0M87.5 149.3h0M87.8 149.4h0M88.2 149.5h0M88.6 149.6h0M89.0 149.7h0M89.4 149.8h0M89.8 149.9h0M90.1 150.0h0M90.5 150.1h0M90.9 150.2h0M91.3 150.3h0M91.7 150.4h0M92.0 150.5h0M92.4 150.6h0M92.8 150.7h0M93.2 150.8h0M93.6 150.9h0M93.9 151.0h0M94.3 151.1h0M94.7 151.2h0M95.1 151.3h0M95.5 151.4h0M95.8 151.5h0M96.2 151.6h0M96.6 151.7h0M97.0 151.8h0M97.4 151.9h0M97.7 152.0h0M98.1 152.1h0M98.5 152.2h0M98.9 152.3h0M99.3 152.4h0M99.6 152.5h0M100.0 152.6h0M100.4 152.7h0M100.8 152.8h0M101.2 152.9h0M101.6 153.0h0M101.9 153.2h0M102.3 153.3h0M102.7 153.4h0M103.1 153.5h0M103.5 153.6h0M103.8 153.7h0M104.2 153.8h0M104.6 153.9h0M105.0 154.0h0M105.4 154.1h0M105.7 154.2h0M106.1 154.3h0M106.5 154.4h0M106.9 154.5h0M107.3 154.7h0M107.6 154.8h0M108.0 154.9h0M108.4 155.0h0M108.8 155.1h0M109.2 155.2h0M109.5 155.3h0M109.9 155.4h0M110.3 155.5h0M110.7 155.6h0M111.1 155.8h0M111.5 155.9h0M111.8 156.0h0M112.2 156.1h0M112.6 156.2h0M113.0 156.3h0M113.4 156.4h0M113.7 156.5h0M114.1 156.7h0M114.5 156.8h0M114.9 156.9h0M115.3 157.0h0M115.6 157.1h0M116.0 157.2h0M116.4 157.3h0M116.8 157.5h0M117.2 157.6h0M117.5 157.7h0M117.9 157.8h0M118.3 157.9h0M118.7 158.0h0M119.1 158.2h0M119.4 158.3h0M119.8 158.4h0M120.2 158.5h0M120.6 158.6h0M121.0 158.7h0M121.3 158.9h0M121.7 159.0h0M122.1 159.1h0M122.5 159.2h0M122.9 159.3h0M123.3 159.5h0M123.6 159.6h0M124.0 159.7h0M124.4 159.8h0M124.8 160.0h0M125.2 160.1h0M125.5 160.2h0M125.9 160.3h0M126.3 160.4h0M126.7 160.6h0M127.1 160.7h0M127.4 160.8h0M127.8 160.9h0M128.2 161.1h0M128.6 161.2h0M129.0 161.3h0M129.3 161.4h0M129.7 161.6h0M130.1 161.7h0M130.5 161.8h0M130.9 161.9h0M131.2 162.1h0M131.6 162.2h0M132.0 162.3h0M132.4 162.5h0M132.8 162.6h0M133.2 162.7h0M133.5 162.8h0M133.9 163.0h0M134.3 163.1h0M134.7 163.2h0M135.1 163.4h0M135.4 163.5h0M135.8 163.6h0M136.2 163.8h0M136.6 163.9h0M137.0 164.0h0M137.3 164.2h0M137.7 164.3h0M138.1 164.4h0M138.5 164.6h0M138.9 164.7h0M139.2 164.8h0M139.6 165.0h0M140.0 165.1h0M140.4 165.2h0M140.8 165.4h0M141.1 165.5h0M141.5 165.6h0M141.9 165.8h0M142.3 165.9h0M142.7 166.1h0M143.0 166.2h0M143.4 166.3h0M143.8 166.5h0M144.2 166.6h0M144.6 166.7h0M145.0 166.9h0M145.3 167.0h0M145.7 167.2h0M146.1 167.3h0M146.5 167.5h0M146.9 167.6h0M147.2 167.7h0M147.6 167.9h0M148.0 168.0h0M148.4 168.2h0M148.8 168.3h0M149.1 168.5h0M149.5 168.6h0M149.9 168.8h0M150.3 168.9h0M150.7 169.1h0M151.0 169.2h0M151.4 169.3h0M151.8 169.5h0M152.2 169.6h0M152.6 169.8h0M152.9 169.9h0M153.3 170.1h0M153.7 170.2h0M154.1 170.4h0M154.5 170.6h0M154.9 170.7h0M155.2 170.9h0M155.6 171.0h0M156.0 171.2h0M156.4 171.3h0M156.8 171.5h0M157.1 171.6h0M157.5 171.8h0M157.9 171.9h0M158.3 172.1h0M158.7 172.3h0M159.0 172.4h0M159.4 172.6h0M159.8 172.7h0M160.2 172.9h0M160.6 173.1h0M160.9 173.2h0M161.3 173.4h0M161.7 173.5h0M162.1 173.7h0M162.5 173.9h0M162.8 174.0h0M163.2 174.2h0M163.6 174.4h0M164.0 174.5h0M164.4 174.7h0M164.7 174.9h0M165.1 175.0h0M165.5 175.2h0M165.9 175.4h0M166.3 175.5h0M166.7 175.7h0M167.0 175.9h0M167.4 176.0h0M167.8 176.2h0M168.2 176.4h0M168.6 176.5h0M168.9 176.7h0M169.3 176.9h0M169.7 177.1h0M170.1 177.2h0M170.5 177.4h0M170.8 177.6h0M171.2 177.8h0M171.6 178.0h0M172.0 178.1h0M172.4 178.3h0M172.7 178.5h0M173.1 178.7h0M173.5 178.8h0M173.9 179.0h0M174.3 179.2h0M174.6 179.4h0M175.0 179.6h0M175.4 179.8h0M175.8 180.0h0M176.2 180.1h0M176.6 180.3h0M176.9 180.5h0M177.3 180.7h0M177.7 180.9h0M178.1 181.1h0M178.5 181.3h0M178.8 181.5h0M179.2 181.7h0M179.6 181.8h0M180.0 182.0h0M180.4 182.2h0M180.7 182.4h0M181.1 182.6h0M181.5 182.8h0M181.9 183.0h0M182.3 183.2h0M182.6 183.4h0M183.0 183.6h0M183.4 183.8h0M183.8 184.0h0M184.2 184.2h0M184.5 184.4h0M184.9 184.6h0M185.3 184.8h0M185.7 185.0h0M186.1 185.2h0M186.4 185.5h0M186.8 185.7h0M187.2 185.9h0M187.6 186.1h0M188.0 186.3h0M188.4 186.5h0M188.7 186.7h0M189.1 186.9h0M189.5 187.2h0M189.9 187.4h0M190.3 187.6h0M190.6 187.8h0M191.0 188.0h0M191.4 188.2h0M191.8 188.5h0M192.2 188.7h0M192.5 188.9h0M192.9 189.1h0M193.3 189.4h0M193.7 189.6h0M194.1 189.8h0M194.4 190.0h0M194.8 190.3h0M195.2 190.5h0M195.6 190.7h0M196.0 191.0h0M196.3 191.2h0M196.7 191.4h0M197.1 191.7h0M197.5 191.9h0M197.9 192.2h0M198.3 192.4h0M198.6 192.6h0M199.0 192.9h0M199.4 193.1h0M199.8 193.4h0M200.2 193.6h0M200.5 193.9h0M200.9 194.1h0M201.3 194.4h0M201.7 194.6h0M202.1 194.9h0M202.4 195.1h0M202.8 195.4h0M203.2 195.6h0M203.6 195.9h0M204.0 196.2h0M204.3 196.4h0M204.7 196.7h0M205.1 197.0h0M205.5 197.2h0M205.9 197.5h0M206.2 197.8h0M206.6 198.0h0M207.0 198.3h0M207.4 198.6h0M207.8 198.8h0M208.1 199.1h0M208.5 199.4h0M208.9 199.7h0M209.3 200.0h0M209.7 200.2h0M210.1 200.5h0M210.4 200.8h0M210.8 201.1h0M211.2 201.4h0M211.6 201.7h0M212.0 202.0h0M212.3 202.3h0M212.7 202.6h0M213.1 202.9h0M213.5 203.2h0M213.9 203.5h0M214.2 203.8h0M214.6 204.1h0M215.0 204.4h0M215.4 204.7h0M215.8 205.0h0M216.1 205.4h0M216.5 205.7h0M216.9 206.0h0M217.3 206.3h0M217.7 206.6h0M218.0 207.0h0M218.4 207.3h0M218.8 207.6h0M219.2 208.0h0M219.6 208.3h0M220.0 208.6h0M220.3 209.0h0M220.7 209.3h0M221.1 209.7h0M221.5 210.0h0M221.9 210.4h0M222.2 210.7h0M222.6 211.1h0M223.0 211.4h0M223.4 211.8h0M223.8 212.2h0M224.1 212.5h0M224.5 212.9h0M224.9 213.3h0M225.3 213.6h0M225.7 214.0h0M226.0 214.4h0M226.4 214.8h0M226.8 215.2h0M227.2 215.6h0M227.6 216.0h0M227.9 216.4h0M228.3 216.8h0M228.7 217.2h0M229.1 217.6h0M229.5 218.0h0M229.8 218.4h0M230.2 218.8h0M230.6 219.2h0M231.0 219.7h0M231.4 220.1h0M231.8 220.5h0M232.1 221.0h0M232.5 221.4h0M232.9 221.9h0M233.3 222.3h0M233.7 222.8h0M234.0 223.2h0M234.4 223.7h0M234.8 224.1h0M235.2 224.6h0M235.6 225.1h0M235.9 225.6h0M236.3 226.1h0M236.7 226.6h0M237.1 227.1h0M237.5 227.6h0M237.8 228.1h0M238.2 228.6h0M238.6 229.1h0M239.0 229.6h0M239.4 230.2h0M239.7 230.7h0M240.1 231.2h0M240.5 231.8h0M240.9 232.3h0M241.3 232.9h0M241.7 233.5h0M242.0 234.0h0M242.4 234.6h0M242.8 235.2h0M243.2 235.8h0M243.6 236.4h0M243.9 237.0h0M244.3 237.7h0M244.7 238.3h0M245.1 238.9h0M245.5 239.6h0M245.8 240.2h0M246.2 240.9h0M246.6 241.6h0M247.0 242.2h0M247.4 242.9h0M247.7 243.6h0M248.1 244.4h0M248.5 245.1h0M248.9 245.8h0M249.3 246.6h0M249.6 247.3h0M250.0 248.1h0M250.4 248.9h0M250.8 249.7h0M251.2 250.5h0M251.5 251.3h0M251.9 252.2h0M252.3 253.0h0M252.7 253.9h0M253.1 254.8h0M253.5 255.7h0M253.8 256.6h0M254.2 257.5h0M254.6 258.5h0M255.0 259.5h0M255.4 260.5h0M255.7 261.5h0M256.1 262.5h0M256.5 263.6h0M256.9 264.7h0M257.3 265.8h0M257.6 266.9h0M258.0 268.1h0M258.4 269.3h0M258.8 270.5h0M259.2 271.8h0M259.5 273.1h0M259.9 274.4h0M260.3 275.8h0M260.7 277.2h0M261.1 278.7h0M261.4 280.1h0M261.8 281.7h0M272.9 380.7h0M273.2 381.7h0M284.7 281.1h0M285.0 279.5h0M285.4 278.1h0M285.8 276.6h0M286.2 275.2h0M286.6 273.9h0M287.0 272.6h0M287.3 271.3h0M287.7 270.0h0M288.1 268.8h0M288.5 267.6h0M288.9 266.5h0M289.2 265.3h0M289.6 264.2h0M290.0 263.2h0M290.4 262.1h0M290.8 261.1h0M291.1 260.1h0M291.5 259.1h0M291.9 258.1h0M292.3 257.2h0M292.7 256.2h0M293.0 255.3h0M293.4 254.4h0M293.8 253.5h0M294.2 252.7h0M294.6 251.8h0M294.9 251.0h0M295.3 250.2h0M295.7 249.4h0M296.1 248.6h0M296.5 247.8h0M296.9 247.0h0M297.2 246.3h0M297.6 245.5h0M298.0 244.8h0M298.4 244.1h0M298.8 243.4h0M299.1 242.7h0M299.5 242.0h0M299.9 241.3h0M300.3 240.6h0M300.7 240.0h0M301.0 239.3h0M301.4 238.7h0M301.8 238.0h0M302.2 237.4h0M302.6 236.8h0M302.9 236.2h0M303.3 235.6h0M303.7 235.0h0M304.1 234.4h0M304.5 233.8h0M304.8 233.2h0M305.2 232.7h0M305.6 232.1h0M306.0 231.6h0M306.4 231.0h0M306.7 230.5h0M307.1 229.9h0M307.5 229.4h0M307.9 228.9h0M308.3 228.4h0M308.7 227.9h0M309.0 227.4h0M309.4 226.9h0M309.8 226.4h0M310.2 225.9h0M310.6 225.4h0M310.9 224.9h0M311.3 224.4h0M311.7 224.0h0M312.1 223.5h0M312.5 223.0h0M312.8 222.6h0M313.2 222.1h0M313.6 221.7h0M314.0 221.2h0M314.4 220.8h0M314.7 220.4h0M315.1 219.9h0M315.5 219.5h0M315.9 219.1h0M316.3 218.6h0M316.6 218.2h0M317.0 217.8h0M317.4 217.4h0M317.8 217.0h0M318.2 216.6h0M318.6 216.2h0M318.9 215.8h0M319.3 215.4h0M319.7 215.0h0M320.1 214.6h0M320.5 214.2h0M320.8 213.9h0M321.2 213.5h0M321.6 213.1h0M322.0 212.7h0M322.4 212.4h0M322.7 212.0h0M323.1 211.6h0M323.5 211.3h0M323.9 210.9h0M324.3 210.6h0M324.6 210.2h0M325.0 209.9h0M325.4 209.5h0M325.8 209.2h0M326.2 208.8h0M326.5 208.5h0M326.9 208.2h0M327.3 207.8h0M327.7 207.5h0M328.1 207.2h0M328.4 206.8h0M328.8 206.5h0M329.2 206.2h0M329.6 205.9h0M330.0 205.5h0M330.4 205.2h0M330.7 204.9h0M331.1 204.6h0M331.5 204.3h0M331.9 204.0h0M332.3 203.7h0M332.6 203.4h0M333.0 203.1h0M333.4 202.8h0M333.8 202.5h0M334.2 202.2h0M334.5 201.9h0M334.9 201.6h0M335.3 201.3h0M335.7 201.0h0M336.1 200.7h0M336.4 200.4h0M336.8 200.1h0M337.2 199.9h0M337.6 199.6h0M338.0 199.3h0M338.3 199.0h0M338.7 198.7h0M339.1 198.5h0M339.5 198.2h0M339.9 197.9h0M340.3 197.6h0M340.6 197.4h0M341.0 197.1h0M341.4 196.8h0M341.8 196.6h0M342.2 196.3h0M342.5 196.1h0M342.9 195.8h0M343.3 195.5h0M343.7 195.3h0M344.1 195.0h0M344.4 194.8h0M344.8 194.5h0M345.2 194.3h0M345.6 194.0h0M346.0 193.8h0M346.3 193.5h0M346.7 193.3h0M347.1 193.0h0M347.5 192.8h0M347.9 192.5h0M348.2 192.3h0M348.6 192.1h0M349.0 191.8h0M349.4 191.6h0M349.8 191.3h0M350.1 191.1h0M350.5 190.9h0M350.9 190.6h0M351.3 190.4h0M351.7 190.2h0M352.1 190.0h0M352.4 189.7h0M352.8 189.5h0M353.2 189.3h0M353.6 189.0h0M354.0 188.8h0M354.3 188.6h0M354.7 188.4h0M355.1 188.2h0M355.5 187.9h0M355.9 187.7h0M356.2 187.5h0M356.6 187.3h0M357.0 187.1h0M357.4 186.9h0M357.8 186.6h0M358.1 186.4h0M358.5 186.2h0M358.9 186.0h0M359.3 185.8h0M359.7 185.6h0M360.0 185.4h0M360.4 185.2h0M360.8 185.0h0M361.2 184.8h0M361.6 184.5h0M362.0 184.3h0M362.3 184.1h0M362.7 183.9h0M363.1 183.7h0M363.5 183.5h0M363.9 183.3h0M364.2 183.1h0M364.6 182.9h0M365.0 182.7h0M365.4 182.5h0M365.8 182.3h0M366.1 182.2h0M366.5 182.0h0M366.9 181.8h0M367.3 181.6h0M367.7 181.4h0M368.0 181.2h0M368.4 181.0h0M368.8 180.8h0M369.2 180.6h0M369.6 180.4h0M369.9 180.2h0M370.3 180.1h0M370.7 179.9h0M371.1 179.7h0M371.5 179.5h0M371.8 179.3h0M372.2 179.1h0M372.6 179.0h0M373.0 178.8h0M373.4 178.6h0M373.8 178.4h0M374.1 178.2h0M374.5 178.1h0M374.9 177.9h0M375.3 177.7h0M375.7 177.5h0M376.0 177.4h0M376.4 177.2h0M376.8 177.0h0M377.2 176.8h0M377.6 176.7h0M377.9 176.5h0M378.3 176.3h0M378.7 176.1h0M379.1 176.0h0M379.5 175.8h0M379.8 175.6h0M380.2 175.5h0M380.6 175.3h0M381.0 175.1h0M381.4 175.0h0M381.7 174.8h0M382.1 174.6h0M382.5 174.5h0M382.9 174.3h0M383.3 174.1h0M383.7 174.0h0M384.0 173.8h0M384.4 173.6h0M384.8 173.5h0M385.2 173.3h0M385.6 173.1h0M385.9 173.0h0M386.3 172.8h0M386.7 172.7h0M387.1 172.5h0M387.5 172.4h0M387.8 172.2h0M388.2 172.0h0M388.6 171.9h0M389.0 171.7h0M389.4 171.6h0M389.7 171.4h0M390.1 171.3h0M390.5 171.1h0M390.9 170.9h0M391.3 170.8h0M391.6 170.6h0M392.0 170.5h0M392.4 170.3h0M392.8 170.2h0M393.2 170.0h0M393.5 169.9h0M393.9 169.7h0M394.3 169.6h0M394.7 169.4h0M395.1 169.3h0M395.5 169.1h0M395.8 169.0h0M396.2 168.8h0M396.6 168.7h0M397.0 168.6h0M397.4 168.4h0M397.7 168.3h0M398.1 168.1h0M398.5 168.0h0M398.9 167.8h0M399.3 167.7h0M399.6 167.5h0M400.0 167.4h0M400.4 167.3h0M400.8 167.1h0M401.2 167.0h0M401.5 166.8h0M401.9 166.7h0M402.3 166.6h0M402.7 166.4h0M403.1 166.3h0M403.4 166.1h0M403.8 166.0h0M404.2 165.9h0M404.6 165.7h0M405.0 165.6h0M405.4 165.4h0M405.7 165.3h0M406.1 165.2h0M406.5 165.0h0M406.9 164.9h0M407.3 164.8h0M407.6 164.6h0M408.0 164.5h0M408.4 164.4h0M408.8 164.2h0M409.2 164.1h0M409.5 164.0h0M409.9 163.8h0M410.3 163.7h0M410.7 163.6h0M411.1 163.4h0M411.4 163.3h0M411.8 163.2h0M412.2 163.0h0M412.6 162.9h0M413.0 162.8h0M413.3 162.7h0M413.7 162.5h0M414.1 162.4h0M414.5 162.3h0M414.9 162.1h0M415.2 162.0h0M415.6 161.9h0M416.0 161.8h0M416.4 161.6h0M416.8 161.5h0M417.2 161.4h0M417.5 161.3h0M417.9 161.1h0M418.3 161.0h0M418.7 160.9h0M419.1 160.8h0M419.4 160.6h0M419.8 160.5h0M420.2 160.4h0M420.6 160.3h0M421.0 160.1h0M421.3 160.0h0M421.7 159.9h0M422.1 159.8h0M422.5 159.7h0M422.9 159.5h0M423.2 159.4h0M423.6 159.3h0M424.0 159.2h0M424.4 159.1h0M424.8 158.9h0M425.1 158.8h0M425.5 158.7h0M425.9 158.6h0M426.3 158.5h0M426.7 158.3h0M427.1 158.2h0M427.4 158.1h0M427.8 158.0h0M428.2 157.9h0M428.6 157.8h0M429.0 157.6h0M429.3 157.5h0M429.7 157.4h0M430.1 157.3h0M430.5 157.2h0M430.9 157.1h0M431.2 157.0h0M431.6 156.8h0M432.0 156.7h0M432.4 156.6h0M432.8 156.5h0M433.1 156.4h0M433.5 156.3h0M433.9 156.2h0M434.3 156.0h0M434.7 155.9h0M435.0 155.8h0M435.4 155.7h0M435.8 155.6h0M436.2 155.5h0M436.6 155.4h0M436.9 155.3h0M437.3 155.2h0M437.7 155.0h0M438.1 154.9h0M438.5 154.8h0M438.9 154.7h0M439.2 154.6h0M439.6 154.5h0M440.0 154.4h0M440.4 154.3h0M440.8 154.2h0M441.1 154.1h0M441.5 154.0h0" stroke="#00ff00"/>
<path d="M262.2 283.3h0M262.6 284.9h0M263.0 286.7h0M263.4 288.4h0M263.7 290.3h0M264.1 292.2h0M264.5 294.2h0M264.9 296.2h0M265.3 298.4h0M265.6 300.7h0M266.0 303.0h0M266.4 305.5h0M266.8 308.2h0M267.2 310.9h0M267.5 313.9h0M267.9 317.0h0M268.3 320.3h0M268.7 323.9h0M269.1 327.7h0M269.4 331.8h0M269.8 336.2h0M270.2 341.0h0M270.6 346.2h0M271.0 351.9h0M271.3 357.9h0M271.7 364.3h0M272.1 370.8h0M272.5 376.6h0M273.6 379.4h0M274.0 374.4h0M274.4 368.2h0M274.8 361.8h0M275.2 355.5h0M275.5 349.5h0M275.9 344.1h0M276.3 339.0h0M276.7 334.4h0M277.1 330.1h0M277.4 326.1h0M277.8 322.4h0M278.2 319.0h0M278.6 315.7h0M279.0 312.7h0M279.3 309.8h0M279.7 307.1h0M280.1 304.5h0M280.5 302.1h0M280.9 299.8h0M281.2 297.5h0M281.6 295.4h0M282.0 293.4h0M282.4 291.4h0M282.8 289.5h0M283.1 287.7h0M283.5 286.0h0M283.9 284.3h0M284.3 282.6h0" stroke="#00ff00" stroke-width="2.2"/>
<path d="M73.0 146.1h0M73.4 146.2h0M73.8 146.3h0M74.1 146.4h0M74.5 146.5h0M74.9 146.6h0M75.3 146.7h0M75.7 146.8h0M76.0 146.9h0M76.4 147.0h0M76.8 147.1h0M77.2 147.2h0M77.6 147.3h0M77.9 147.4h0M78.3 147.5h0M78.7 147.6h0M79.1 147.7h0M79.5 147.8h0M79.9 147.9h0M80.2 148.0h0M80.6 148.1h0M81.0 148.2h0M81.4 148.3h0M81.8 148.4h0M82.1 148.5h0M82.5 148.6h0M82.9 148.7h0M83.3 148.8h0M83.7 148.9h0M84.0 149.0h0M84.4 149.1h0M84.8 149.2h0M85.2 149.3h0M85.6 149.5h0M85.9 149.6h0M86.3 149.7h0M86.7 149.8h0M87.1 149.9h0M87.5 150.0h0M87.8 150.1h0M88.2 150.2h0M88.6 150.3h0M89.0 150.4h0M89.4 150.5h0M89.8 150.6h0M90.1 150.7h0M90.5 150.8h0M90.9 151.0h0M91.3 151.1h0M91.7 151.2h0M92.0 151.3h0M92.4 151.4h0M92.8 151.5h0M93.2 151.6h0M93.6 151.7h0M93.9 151.8h0M94.3 152.0h0M94.7 152.1h0M95.1 152.2h0M95.5 152.3h0M95.8 152.4h0M96.2 152.5h0M96.6 152.6h0M97.0 152.7h0M97.4 152.9h0M97.7 153.0h0M98.1 153.1h0M98.5 153.2h0M98.9 153.3h0M99.3 153.4h0M99.6 153.5h0M100.0 153.7h0M100.4 153.8h0M100.8 153.9h0M101.2 154.0h0M101.6 154.1h0M101.9 154.2h0M102.3 154.4h0M102.7 154.5h0M103.1 154.6h0M103.5 154.7h0M103.8 154.8h0M104.2 154.9h0M104.6 155.1h0M105.0 155.2h0M105.4 155.3h0M105.7 155.4h0M106.1 155.5h0M106.5 155.7h0M106.9 155.8h0M107.3 155.9h0M107.6 156.0h0M108.0 156.2h0M108.4 156.3h0M108.8 156.4h0M109.2 156.5h0M109.5 156.6h0M109.9 156.8h0M110.3 156.9h0M110.7 157.0h0M111.1 157.1h0M111.5 157.3h0M111.8 157.4h0M112.2 157.5h0M112.6 157.6h0M113.0 157.8h0M113.4 157.9h0M113.7 158.0h0M114.1 158.1h0M114.5 158.3h0M114.9 158.4h0M115.3 158.5h0M115.6 158.7h0M116.0 158.8h0M116.4 158.9h0M116.8 159.0h0M117.2 159.2h0M117.5 159.3h0M117.9 159.4h0M118.3 159.6h0M118.7 159.7h0M119.1 159.8h0M119.4 160.0h0M119.8 160.1h0M120.2 160.2h0M120.6 160.4h0M121.0 160.5h0M121.3 160.6h0M121.7 160.8h0M122.1 160.9h0M122.5 161.0h0M122.9 161.2h0M123.3 161.3h0M123.6 161.4h0M124.0 161.6h0M124.4 161.7h0M124.8 161.8h0M125.2 162.0h0M125.5 162.1h0M125.9 162.3h0M126.3 162.4h0M126.7 162.5h0M127.1 162.7h0M127.4 162.8h0M127.8 163.0h0M128.2 163.1h0M128.6 163.2h0M129.0 163.4h0M129.3 163.5h0M129.7 163.7h0M130.1 163.8h0M130.5 164.0h0M130.9 164.1h0M131.2 164.2h0M131.6 164.4h0M132.0 164.5h0M132.4 164.7h0M132.8 164.8h0M133.2 165.0h0M133.5 165.1h0M133.9 165.3h0M134.3 165.4h0M134.7 165.6h0M135.1 165.7h0M135.4 165.9h0M135.8 166.0h0M136.2 166.2h0M136.6 166.3h0M137.0 166.5h0M137.3 166.6h0M137.7 166.8h0M138.1 166.9h0M138.5 167.1h0M138.9 167.2h0M139.2 167.4h0M139.6 167.5h0M140.0 167.7h0M140.4 167.8h0M140.8 168.0h0M141.1 168.2h0M141.5 168.3h0M141.9 168.5h0M142.3 168.6h0M142.7 168.8h0M143.0 169.0h0M143.4 169.1h0M143.8 169.3h0M144.2 169.4h0M144.6 169.6h0M145.0 169.8h0M145.3 169.9h0M145.7 170.1h0M146.1 170.2h0M146.5 170.4h0M146.9 170.6h0M147.2 170.7h0M147.6 170.9h0M148.0 171.1h0M148.4 171.2h0M148.8 171.4h0M149.1 171.6h0M149.5 171.7h0M149.9 171.9h0M150.3 172.1h0M150.7 172.3h0M151.0 172.4h0M151.4 172.6h0M151.8 172.8h0M152.2 173.0h0M152.6 173.1h0M152.9 173.3h0M153.3 173.5h0M153.7 173.7h0M154.1 173.8h0M154.5 174.0h0M154.9 174.2h0M155.2 174.4h0M155.6 174.5h0M156.0 174.7h0M156.4 174.9h0M156.8 175.1h0M157.1 175.3h0M157.5 175.4h0M157.9 175.6h0M158.3 175.8h0M158.7 176.0h0M159.0 176.2h0M159.4 176.4h0M159.8 176.6h0M160.2 176.7h0M160.6 176.9h0M160.9 177.1h0M161.3 177.3h0M161.7 177.5h0M162.1 177.7h0M162.5 177.9h0M162.8 178.1h0M163.2 178.3h0M163.6 178.5h0M164.0 178.7h0M164.4 178.9h0M164.7 179.1h0M165.1 179.3h0M165.5 179.5h0M165.9 179.7h0M166.3 179.9h0M166.7 180.1h0M167.0 180.3h0M167.4 180.5h0M167.8 180.7h0M168.2 180.9h0M168.6 181.1h0M168.9 181.3h0M169.3 181.5h0M169.7 181.7h0M170.1 181.9h0M170.5 182.1h0M170.8 182.3h0M171.2 182.5h0M171.6 182.8h0M172.0 183.0h0M172.4 183.2h0M172.7 183.4h0M173.1 183.6h0M173.5 183.8h0M173.9 184.1h0M174.3 184.3h0M174.6 184.5h0M175.0 184.7h0M175.4 184.9h0M175.8 185.2h0M176.2 185.4h0M176.6 185.6h0M176.9 185.8h0M177.3 186.1h0M177.7 186.3h0M178.1 186.5h0M178.5 186.8h0M178.8 187.0h0M179.2 187.2h0M179.6 187.5h0M180.0 187.7h0M180.4 187.9h0M180.7 188.2h0M181.1 188.4h0M181.5 188.7h0M181.9 188.9h0M182.3 189.1h0M182.6 189.4h0M183.0 189.6h0M183.4 189.9h0M183.8 190.1h0M184.2 190.4h0M184.5 190.6h0M184.9 190.9h0M185.3 191.1h0M185.7 191.4h0M186.1 191.7h0M186.4 191.9h0M186.8 192.2h0M187.2 192.4h0M187.6 192.7h0M188.0 193.0h0M188.4 193.2h0M188.7 193.5h0M189.1 193.8h0M189.5 194.0h0M189.9 194.3h0M190.3 194.6h0M190.6 194.9h0M191.0 195.1h0M191.4 195.4h0M191.8 195.7h0M192.2 196.0h0M192.5 196.3h0M192.9 196.5h0M193.3 196.8h0M193.7 197.1h0M194.1 197.4h0M194.4 197.7h0M194.8 198.0h0M195.2 198.3h0M195.6 198.6h0M196.0 198.9h0M196.3 199.2h0M196.7 199.5h0M197.1 199.8h0M197.5 200.1h0M197.9 200.4h0M198.3 200.7h0M198.6 201.0h0M199.0 201.3h0M199.4 201.7h0M199.8 202.0h0M200.2 202.3h0M200.5 202.6h0M200.9 202.9h0M201.3 203.3h0M201.7 203.6h0M202.1 203.9h0M202.4 204.3h0M202.8 204.6h0M203.2 204.9h0M203.6 205.3h0M204.0 205.6h0M204.3 206.0h0M204.7 206.3h0M205.1 206.7h0M205.5 207.0h0M205.9 207.4h0M206.2 207.8h0M206.6 208.1h0M207.0 208.5h0M207.4 208.8h0M207.8 209.2h0M208.1 209.6h0M208.5 210.0h0M208.9 210.4h0M209.3 210.7h0M209.7 211.1h0M210.1 211.5h0M210.4 211.9h0M210.8 212.3h0M211.2 212.7h0M211.6 213.1h0M212.0 213.5h0M212.3 213.9h0M212.7 214.3h0M213.1 214.7h0M213.5 215.2h0M213.9 215.6h0M214.2 216.0h0M214.6 216.5h0M215.0 216.9h0M215.4 217.3h0M215.8 217.8h0M216.1 218.2h0M216.5 218.7h0M216.9 219.1h0M217.3 219.6h0M217.7 220.1h0M218.0 220.5h0M218.4 221.0h0M218.8 221.5h0M219.2 222.0h0M219.6 222.5h0M220.0 223.0h0M220.3 223.5h0M220.7 224.0h0M221.1 224.5h0M221.5 225.0h0M221.9 225.5h0M222.2 226.0h0M222.6 226.6h0M223.0 227.1h0M223.4 227.7h0M223.8 228.2h0M224.1 228.8h0M224.5 229.3h0M224.9 229.9h0M225.3 230.5h0M225.7 231.1h0M226.0 231.7h0M226.4 232.3h0M226.8 232.9h0M227.2 233.5h0M227.6 234.1h0M227.9 234.8h0M228.3 235.4h0M228.7 236.0h0M229.1 236.7h0M229.5 237.4h0M229.8 238.1h0M230.2 238.7h0M230.6 239.4h0M231.0 240.2h0M231.4 240.9h0M231.8 241.6h0M232.1 242.3h0M232.5 243.1h0M232.9 243.9h0M233.3 244.6h0M233.7 245.4h0M234.0 246.2h0M234.4 247.1h0M234.8 247.9h0M235.2 248.7h0M235.6 249.6h0M235.9 250.5h0M236.3 251.4h0M236.7 252.3h0M237.1 253.2h0M237.5 254.2h0M237.8 255.1h0M238.2 256.1h0M238.6 257.1h0M239.0 258.2h0M239.4 259.2h0M239.7 260.3h0M240.1 261.4h0M240.5 262.5h0M240.9 263.7h0M241.3 264.9h0M241.7 266.1h0M242.0 267.3h0M242.4 268.6h0M242.8 269.9h0M243.2 271.3h0M243.6 272.7h0M243.9 274.1h0M244.3 275.6h0M244.7 277.1h0M256.1 381.6h0M256.5 380.8h0M267.5 278.0h0M267.9 276.5h0M268.3 275.0h0M268.7 273.5h0M269.1 272.1h0M269.4 270.7h0M269.8 269.4h0M270.2 268.1h0M270.6 266.8h0M271.0 265.6h0M271.3 264.4h0M271.7 263.2h0M272.1 262.1h0M272.5 261.0h0M272.9 259.9h0M273.2 258.8h0M273.6 257.8h0M274.0 256.7h0M274.4 255.7h0M274.8 254.8h0M275.2 253.8h0M275.5 252.8h0M275.9 251.9h0M276.3 251.0h0M276.7 250.1h0M277.1 249.3h0M277.4 248.4h0M277.8 247.6h0M278.2 246.7h0M278.6 245.9h0M279.0 245.1h0M279.3 244.3h0M279.7 243.6h0M280.1 242.8h0M280.5 242.0h0M280.9 241.3h0M281.2 240.6h0M281.6 239.9h0M282.0 239.2h0M282.4 238.5h0M282.8 237.8h0M283.1 237.1h0M283.5 236.4h0M283.9 235.8h0M284.3 235.1h0M284.7 234.5h0M285.0 233.9h0M285.4 233.2h0M285.8 232.6h0M286.2 232.0h0M286.6 231.4h0M287.0 230.8h0M287.3 230.3h0M287.7 229.7h0M288.1 229.1h0M288.5 228.5h0M288.9 228.0h0M289.2 227.4h0M289.6 226.9h0M290.0 226.4h0M290.4 225.8h0M290.8 225.3h0M291.1 224.8h0M291.5 224.3h0M291.9 223.8h0M292.3 223.3h0M292.7 222.8h0M293.0 222.3h0M293.4 221.8h0M293.8 221.3h0M294.2 220.8h0M294.6 220.3h0M294.9 219.9h0M295.3 219.4h0M295.7 218.9h0M296.1 218.5h0M296.5 218.0h0M296.9 217.6h0M297.2 217.2h0M297.6 216.7h0M298.0 216.3h0M298.4 215.8h0M298.8 215.4h0M299.1 215.0h0M299.5 214.6h0M299.9 214.2h0M300.3 213.8h0M300.7 213.3h0M301.0 212.9h0M301.4 212.5h0M301.8 212.1h0M302.2 211.7h0M302.6 211.4h0M302.9 211.0h0M303.3 210.6h0M303.7 210.2h0M304.1 209.8h0M304.5 209.4h0M304.8 209.1h0M305.2 208.7h0M305.6 208.3h0M306.0 208.0h0M306.4 207.6h0M306.7 207.2h0M307.1 206.9h0M307.5 206.5h0M307.9 206.2h0M308.3 205.8h0M308.7 205.5h0M309.0 205.1h0M309.4 204.8h0M309.8 204.5h0M310.2 204.1h0M310.6 203.8h0M310.9 203.5h0M311.3 203.1h0M311.7 202.8h0M312.1 202.5h0M312.5 202.2h0M312.8 201.8h0M313.2 201.5h0M313.6 201.2h0M314.0 200.9h0M314.4 200.6h0M314.7 200.3h0M315.1 200.0h0M315.5 199.7h0M315.9 199.4h0M316.3 199.1h0M316.6 198.8h0M317.0 198.5h0M317.4 198.2h0M317.8 197.9h0M318.2 197.6h0M318.6 197.3h0M318.9 197.0h0M319.3 196.7h0M319.7 196.4h0M320.1 196.1h0M320.5 195.9h0M320.8 195.6h0M321.2 195.3h0M321.6 195.0h0M322.0 194.7h0M322.4 194.5h0M322.7 194.2h0M323.1 193.9h0M323.5 193.7h0M323.9 193.4h0M324.3 193.1h0M324.6 192.9h0M325.0 192.6h0M325.4 192.3h0M325.8 192.1h0M326.2 191.8h0M326.5 191.6h0M326.9 191.3h0M327.3 191.0h0M327.7 190.8h0M328.1 190.5h0M328.4 190.3h0M328.8 190.0h0M329.2 189.8h0M329.6 189.5h0M330.0 189.3h0M330.4 189.1h0M330.7 188.8h0M331.1 188.6h0M331.5 188.3h0M331.9 188.1h0M332.3 187.8h0M332.6 187.6h0M333.0 187.4h0M333.4 187.1h0M333.8 186.9h0M334.2 186.7h0M334.5 186.4h0M334.9 186.2h0M335.3 186.0h0M335.7 185.8h0M336.1 185.5h0M336.4 185.3h0M336.8 185.1h0M337.2 184.9h0M337.6 184.6h0M338.0 184.4h0M338.3 184.2h0M338.7 184.0h0M339.1 183.7h0M339.5 183.5h0M339.9 183.3h0M340.3 183.1h0M340.6 182.9h0M341.0 182.7h0M341.4 182.5h0M341.8 182.2h0M342.2 182.0h0M342.5 181.8h0M342.9 181.6h0M343.3 181.4h0M343.7 181.2h0M344.1 181.0h0M344.4 180.8h0M344.8 180.6h0M345.2 180.4h0M345.6 180.2h0M346.0 180.0h0M346.3 179.8h0M346.7 179.6h0M347.1 179.4h0M347.5 179.2h0M347.9 179.0h0M348.2 178.8h0M348.6 178.6h0M349.0 178.4h0M349.4 178.2h0M349.8 178.0h0M350.1 177.8h0M350.5 177.6h0M350.9 177.4h0M351.3 177.2h0M351.7 177.0h0M352.1 176.9h0M352.4 176.7h0M352.8 176.5h0M353.2 176.3h0M353.6 176.1h0M354.0 175.9h0M354.3 175.7h0M354.7 175.6h0M355.1 175.4h0M355.5 175.2h0M355.9 175.0h0M356.2 174.8h0M356.6 174.6h0M357.0 174.5h0M357.4 174.3h0M357.8 174.1h0M358.1 173.9h0M358.5 173.8h0M358.9 173.6h0M359.3 173.4h0M359.7 173.2h0M360.0 173.1h0M360.4 172.9h0M360.8 172.7h0M361.2 172.5h0M361.6 172.4h0M362.0 172.2h0M362.3 172.0h0M362.7 171.9h0M363.1 171.7h0M363.5 171.5h0M363.9 171.3h0M364.2 171.2h0M364.6 171.0h0M365.0 170.8h0M365.4 170.7h0M365.8 170.5h0M366.1 170.3h0M366.5 170.2h0M366.9 170.0h0M367.3 169.9h0M367.7 169.7h0M368.0 169.5h0M368.4 169.4h0M368.8 169.2h0M369.2 169.1h0M369.6 168.9h0M369.9 168.7h0M370.3 168.6h0M370.7 168.4h0M371.1 168.3h0M371.5 168.1h0M371.8 167.9h0M372.2 167.8h0M372.6 167.6h0M373.0 167.5h0M373.4 167.3h0M373.8 167.2h0M374.1 167.0h0M374.5 166.9h0M374.9 166.7h0M375.3 166.6h0M375.7 166.4h0M376.0 166.3h0M376.4 166.1h0M376.8 166.0h0M377.2 165.8h0M377.6 165.7h0M377.9 165.5h0M378.3 165.4h0M378.7 165.2h0M379.1 165.1h0M379.5 164.9h0M379.8 164.8h0M380.2 164.6h0M380.6 164.5h0M381.0 164.3h0M381.4 164.2h0M381.7 164.0h0M382.1 163.9h0M382.5 163.8h0M382.9 163.6h0M383.3 163.5h0M383.7 163.3h0M384.0 163.2h0M384.4 163.0h0M384.8 162.9h0M385.2 162.8h0M385.6 162.6h0M385.9 162.5h0M386.3 162.3h0M386.7 162.2h0M387.1 162.1h0M387.5 161.9h0M387.8 161.8h0M388.2 161.7h0M388.6 161.5h0M389.0 161.4h0M389.4 161.2h0M389.7 161.1h0M390.1 161.0h0M390.5 160.8h0M390.9 160.7h0M391.3 160.6h0M391.6 160.4h0M392.0 160.3h0M392.4 160.2h0M392.8 160.0h0M393.2 159.9h0M393.5 159.8h0M393.9 159.6h0M394.3 159.5h0M394.7 159.4h0M395.1 159.3h0M395.5 159.1h0M395.8 159.0h0M396.2 158.9h0M396.6 158.7h0M397.0 158.6h0M397.4 158.5h0M397.7 158.3h0M398.1 158.2h0M398.5 158.1h0M398.9 158.0h0M399.3 157.8h0M399.6 157.7h0M400.0 157.6h0M400.4 157.5h0M400.8 157.3h0M401.2 157.2h0M401.5 157.1h0M401.9 157.0h0M402.3 156.8h0M402.7 156.7h0M403.1 156.6h0M403.4 156.5h0M403.8 156.3h0M404.2 156.2h0M404.6 156.1h0M405.0 156.0h0M405.4 155.9h0M405.7 155.7h0M406.1 155.6h0M406.5 155.5h0M406.9 155.4h0M407.3 155.3h0M407.6 155.1h0M408.0 155.0h0M408.4 154.9h0M408.8 154.8h0M409.2 154.7h0M409.5 154.5h0M409.9 154.4h0M410.3 154.3h0M410.7 154.2h0M411.1 154.1h0M411.4 154.0h0M411.8 153.8h0M412.2 153.7h0M412.6 153.6h0M413.0 153.5h0M413.3 153.4h0M413.7 153.3h0M414.1 153.2h0M414.5 153.0h0M414.9 152.9h0M415.2 152.8h0M415.6 152.7h0M416.0 152.6h0M416.4 152.5h0M416.8 152.4h0M417.2 152.2h0M417.5 152.1h0M417.9 152.0h0M418.3 151.9h0M418.7 151.8h0M419.1 151.7h0M419.4 151.6h0M419.8 151.5h0M420.2 151.4h0M420.6 151.2h0M421.0 151.1h0M421.3 151.0h0M421.7 150.9h0M422.1 150.8h0M422.5 150.7h0M422.9 150.6h0M423.2 150.5h0M423.6 150.4h0M424.0 150.3h0M424.4 150.2h0M424.8 150.0h0M425.1 149.9h0M425.5 149.8h0M425.9 149.7h0M426.3 149.6h0M426.7 149.5h0M427.1 149.4h0M427.4 149.3h0M427.8 149.2h0M428.2 149.1h0M428.6 149.0h0M429.0 148.9h0M429.3 148.8h0M429.7 148.7h0M430.1 148.6h0M430.5 148.5h0M430.9 148.4h0M431.2 148.3h0M431.6 148.2h0M432.0 148.1h0M432.4 148.0h0M432.8 147.8h0M433.1 147.7h0M433.5 147.6h0M433.9 147.5h0M434.3 147.4h0M434.7 147.3h0M435.0 147.2h0M435.4 147.1h0M435.8 147.0h0M436.2 146.9h0M436.6 146.8h0M436.9 146.7h0M437.3 146.6h0M437.7 146.5h0M438.1 146.4h0M438.5 146.3h0M438.9 146.2h0" stroke="#0000ff"/>
<path d="M245.1 278.7h0M245.5 280.3h0M245.8 282.0h0M246.2 283.7h0M246.6 285.5h0M247.0 287.4h0M247.4 289.4h0M247.7 291.4h0M248.1 293.6h0M248.5 295.8h0M248.9 298.1h0M249.3 300.6h0M249.6 303.1h0M250.0 305.9h0M250.4 308.7h0M250.8 311.8h0M251.2 315.0h0M251.5 318.5h0M251.9 322.2h0M252.3 326.2h0M252.7 330.6h0M253.1 335.3h0M253.5 340.4h0M253.8 346.0h0M254.2 352.2h0M254.6 358.8h0M255.0 365.8h0M255.4 372.7h0M255.7 378.5h0M256.9 376.4h0M257.3 370.0h0M257.6 363.0h0M258.0 356.1h0M258.4 349.6h0M258.8 343.7h0M259.2 338.3h0M259.5 333.3h0M259.9 328.8h0M260.3 324.6h0M260.7 320.7h0M261.1 317.1h0M261.4 313.7h0M261.8 310.5h0M262.2 307.6h0M262.6 304.7h0M263.0 302.1h0M263.4 299.6h0M263.7 297.2h0M264.1 294.9h0M264.5 292.7h0M264.9 290.6h0M265.3 288.6h0M265.6 286.7h0M266.0 284.8h0M266.4 283.0h0M266.8 281.3h0M267.2 279.7h0" stroke="#0000ff" stroke-width="2.2"/>
<path d="M73.0 147.0h0M73.4 147.2h0M73.8 147.3h0M74.1 147.4h0M74.5 147.6h0M74.9 147.7h0M75.3 147.9h0M75.7 148.0h0M76.0 148.2h0M76.4 148.3h0M76.8 148.4h0M77.2 148.6h0M77.6 148.7h0M77.9 148.9h0M78.3 149.0h0M78.7 149.2h0M79.1 149.3h0M79.5 149.5h0M79.9 149.6h0M80.2 149.8h0M80.6 149.9h0M81.0 150.1h0M81.4 150.2h0M81.8 150.4h0M82.1 150.5h0M82.5 150.7h0M82.9 150.8h0M83.3 151.0h0M83.7 151.1h0M84.0 151.3h0M84.4 151.4h0M84.8 151.6h0M85.2 151.7h0M85.6 151.9h0M85.9 152.0h0M86.3 152.2h0M86.7 152.3h0M87.1 152.5h0M87.5 152.7h0M87.8 152.8h0M88.2 153.0h0M88.6 153.1h0M89.0 153.3h0M89.4 153.5h0M89.8 153.6h0M90.1 153.8h0M90.5 153.9h0M90.9 154.1h0M91.3 154.3h0M91.7 154.4h0M92.0 154.6h0M92.4 154.8h0M92.8 154.9h0M93.2 155.1h0M93.6 155.3h0M93.9 155.4h0M94.3 155.6h0M94.7 155.8h0M95.1 155.9h0M95.5 156.1h0M95.8 156.3h0M96.2 156.4h0M96.6 156.6h0M97.0 156.8h0M97.4 156.9h0M97.7 157.1h0M98.1 157.3h0M98.5 157.5h0M98.9 157.6h0M99.3 157.8h0M99.6 158.0h0M100.0 158.2h0M100.4 158.3h0M100.8 158.5h0M101.2 158.7h0M101.6 158.9h0M101.9 159.1h0M102.3 159.2h0M102.7 159.4h0M103.1 159.6h0M103.5 159.8h0M103.8 160.0h0M104.2 160.2h0M104.6 160.3h0M105.0 160.5h0M105.4 160.7h0M105.7 160.9h0M106.1 161.1h0M106.5 161.3h0M106.9 161.5h0M107.3 161.7h0M107.6 161.8h0M108.0 162.0h0M108.4 162.2h0M108.8 162.4h0M109.2 162.6h0M109.5 162.8h0M109.9 163.0h0M110.3 163.2h0M110.7 163.4h0M111.1 163.6h0M111.5 163.8h0M111.8 164.0h0M112.2 164.2h0M112.6 164.4h0M113.0 164.6h0M113.4 164.8h0M113.7 165.0h0M114.1 165.2h0M114.5 165.4h0M114.9 165.6h0M115.3 165.8h0M115.6 166.0h0M116.0 166.2h0M116.4 166.5h0M116.8 166.7h0M117.2 166.9h0M117.5 167.1h0M117.9 167.3h0M118.3 167.5h0M118.7 167.7h0M119.1 168.0h0M119.4 168.2h0M119.8 168.4h0M120.2 168.6h0M120.6 168.8h0M121.0 169.1h0M121.3 169.3h0M121.7 169.5h0M122.1 169.7h0M122.5 170.0h0M122.9 170.2h0M123.3 170.4h0M123.6 170.6h0M124.0 170.9h0M124.4 171.1h0M124.8 171.3h0M125.2 171.6h0M125.5 171.8h0M125.9 172.0h0M126.3 172.3h0M126.7 172.5h0M127.1 172.8h0M127.4 173.0h0M127.8 173.2h0M128.2 173.5h0M128.6 173.7h0M129.0 174.0h0M129.3 174.2h0M129.7 174.5h0M130.1 174.7h0M130.5 175.0h0M130.9 175.2h0M131.2 175.5h0M131.6 175.7h0M132.0 176.0h0M132.4 176.3h0M132.8 176.5h0M133.2 176.8h0M133.5 177.0h0M133.9 177.3h0M134.3 177.6h0M134.7 177.8h0M135.1 178.1h0M135.4 178.4h0M135.8 178.6h0M136.2 178.9h0M136.6 179.2h0M137.0 179.5h0M137.3 179.7h0M137.7 180.0h0M138.1 180.3h0M138.5 180.6h0M138.9 180.9h0M139.2 181.2h0M139.6 181.4h0M140.0 181.7h0M140.4 182.0h0M140.8 182.3h0M141.1 182.6h0M141.5 182.9h0M141.9 183.2h0M142.3 183.5h0M142.7 183.8h0M143.0 184.1h0M143.4 184.4h0M143.8 184.7h0M144.2 185.0h0M144.6 185.4h0M145.0 185.7h0M145.3 186.0h0M145.7 186.3h0M146.1 186.6h0M146.5 187.0h0M146.9 187.3h0M147.2 187.6h0M147.6 187.9h0M148.0 188.3h0M148.4 188.6h0M148.8 188.9h0M149.1 189.3h0M149.5 189.6h0M149.9 190.0h0M150.3 190.3h0M150.7 190.7h0M151.0 191.0h0M151.4 191.4h0M151.8 191.7h0M152.2 192.1h0M152.6 192.4h0M152.9 192.8h0M153.3 193.2h0M153.7 193.6h0M154.1 193.9h0M154.5 194.3h0M154.9 194.7h0M155.2 195.1h0M155.6 195.5h0M156.0 195.8h0M156.4 196.2h0M156.8 196.6h0M157.1 197.0h0M157.5 197.4h0M157.9 197.8h0M158.3 198.2h0M158.7 198.7h0M159.0 199.1h0M159.4 199.5h0M159.8 199.9h0M160.2 200.4h0M160.6 200.8h0M160.9 201.2h0M161.3 201.7h0M161.7 202.1h0M162.1 202.6h0M162.5 203.0h0M162.8 203.5h0M163.2 203.9h0M163.6 204.4h0M164.0 204.9h0M164.4 205.3h0M164.7 205.8h0M165.1 206.3h0M165.5 206.8h0M165.9 207.3h0M166.3 207.8h0M166.7 208.3h0M167.0 208.8h0M167.4 209.3h0M167.8 209.8h0M168.2 210.4h0M168.6 210.9h0M168.9 211.4h0M169.3 212.0h0M169.7 212.5h0M170.1 213.1h0M170.5 213.7h0M170.8 214.2h0M171.2 214.8h0M171.6 215.4h0M172.0 216.0h0M172.4 216.6h0M172.7 217.2h0M173.1 217.8h0M173.5 218.4h0M173.9 219.1h0M174.3 219.7h0M174.6 220.4h0M175.0 221.0h0M175.4 221.7h0M175.8 222.4h0M176.2 223.1h0M176.6 223.8h0M176.9 224.5h0M177.3 225.2h0M177.7 225.9h0M178.1 226.7h0M178.5 227.4h0M178.8 228.2h0M179.2 229.0h0M179.6 229.8h0M180.0 230.6h0M180.4 231.4h0M180.7 232.2h0M181.1 233.1h0M181.5 233.9h0M181.9 234.8h0M182.3 235.7h0M182.6 236.6h0M183.0 237.6h0M183.4 238.5h0M183.8 239.5h0M184.2 240.5h0M184.5 241.5h0M184.9 242.5h0M185.3 243.6h0M185.7 244.6h0M186.1 245.7h0M186.4 246.9h0M186.8 248.0h0M187.2 249.2h0M187.6 250.4h0M188.0 251.7h0M188.4 253.0h0M188.7 254.3h0M189.1 255.6h0M189.5 257.0h0M189.9 258.5h0M190.3 259.9h0M190.6 261.5h0M202.1 381.2h0M202.4 380.3h0M213.9 261.1h0M214.2 259.6h0M214.6 258.1h0M215.0 256.7h0M215.4 255.3h0M215.8 254.0h0M216.1 252.7h0M216.5 251.4h0M216.9 250.1h0M217.3 248.9h0M217.7 247.7h0M218.0 246.6h0M218.4 245.5h0M218.8 244.4h0M219.2 243.3h0M219.6 242.3h0M220.0 241.2h0M220.3 240.2h0M220.7 239.2h0M221.1 238.3h0M221.5 237.3h0M221.9 236.4h0M222.2 235.5h0M222.6 234.6h0M223.0 233.7h0M223.4 232.9h0M223.8 232.0h0M224.1 231.2h0M224.5 230.4h0M224.9 229.6h0M225.3 228.8h0M225.7 228.0h0M226.0 227.2h0M226.4 226.5h0M226.8 225.8h0M227.2 225.0h0M227.6 224.3h0M227.9 223.6h0M228.3 222.9h0M228.7 222.2h0M229.1 221.5h0M229.5 220.9h0M229.8 220.2h0M230.2 219.6h0M230.6 218.9h0M231.0 218.3h0M231.4 217.7h0M231.8 217.1h0M232.1 216.5h0M232.5 215.9h0M232.9 215.3h0M233.3 214.7h0M233.7 214.1h0M234.0 213.5h0M234.4 213.0h0M234.8 212.4h0M235.2 211.9h0M235.6 211.3h0M235.9 210.8h0M236.3 210.2h0M236.7 209.7h0M237.1 209.2h0M237.5 208.7h0M237.8 208.2h0M238.2 207.7h0M238.6 207.2h0M239.0 206.7h0M239.4 206.2h0M239.7 205.7h0M240.1 205.2h0M240.5 204.7h0M240.9 204.3h0M241.3 203.8h0M241.7 203.4h0M242.0 202.9h0M242.4 202.4h0M242.8 202.0h0M243.2 201.6h0M243.6 201.1h0M243.9 200.7h0M244.3 200.2h0M244.7 199.8h0M245.1 199.4h0M245.5 199.0h0M245.8 198.6h0M246.2 198.1h0M246.6 197.7h0M247.0 197.3h0M247.4 196.9h0M247.7 196.5h0M248.1 196.1h0M248.5 195.7h0M248.9 195.4h0M249.3 195.0h0M249.6 194.6h0M250.0 194.2h0M250.4 193.8h0M250.8 193.5h0M251.2 193.1h0M251.5 192.7h0M251.9 192.4h0M252.3 192.0h0M252.7 191.6h0M253.1 191.3h0M253.5 190.9h0M253.8 190.6h0M254.2 190.2h0M254.6 189.9h0M255.0 189.5h0M255.4 189.2h0M255.7 188.9h0M256.1 188.5h0M256.5 188.2h0M256.9 187.9h0M257.3 187.5h0M257.6 187.2h0M258.0 186.9h0M258.4 186.6h0M258.8 186.2h0M259.2 185.9h0M259.5 185.6h0M259.9 185.3h0M260.3 185.0h0M260.7 184.7h0M261.1 184.4h0M261.4 184.0h0M261.8 183.7h0M262.2 183.4h0M262.6 183.1h0M263.0 182.8h0M263.4 182.5h0M263.7 182.2h0M264.1 182.0h0M264.5 181.7h0M264.9 181.4h0M265.3 181.1h0M265.6 180.8h0M266.0 180.5h0M266.4 180.2h0M266.8 180.0h0M267.2 179.7h0M267.5 179.4h0M267.9 179.1h0M268.3 178.8h0M268.7 178.6h0M269.1 178.3h0M269.4 178.0h0M269.8 177.8h0M270.2 177.5h0M270.6 177.2h0M271.0 177.0h0M271.3 176.7h0M271.7 176.4h0M272.1 176.2h0M272.5 175.9h0M272.9 175.7h0M273.2 175.4h0M273.6 175.2h0M274.0 174.9h0M274.4 174.7h0M274.8 174.4h0M275.2 174.2h0M275.5 173.9h0M275.9 173.7h0M276.3 173.4h0M276.7 173.2h0M277.1 172.9h0M277.4 172.7h0M277.8 172.5h0M278.2 172.2h0M278.6 172.0h0M279.0 171.7h0M279.3 171.5h0M279.7 171.3h0M280.1 171.0h0M280.5 170.8h0M280.9 170.6h0M281.2 170.4h0M281.6 170.1h0M282.0 169.9h0M282.4 169.7h0M282.8 169.5h0M283.1 169.2h0M283.5 169.0h0M283.9 168.8h0M284.3 168.6h0M284.7 168.3h0M285.0 168.1h0M285.4 167.9h0M285.8 167.7h0M286.2 167.5h0M286.6 167.3h0M287.0 167.0h0M287.3 166.8h0M287.7 166.6h0M288.1 166.4h0M288.5 166.2h0M288.9 166.0h0M289.2 165.8h0M289.6 165.6h0M290.0 165.4h0M290.4 165.2h0M290.8 165.0h0M291.1 164.8h0M291.5 164.6h0M291.9 164.4h0M292.3 164.1h0M292.7 163.9h0M293.0 163.7h0M293.4 163.6h0M293.8 163.4h0M294.2 163.2h0M294.6 163.0h0M294.9 162.8h0M295.3 162.6h0M295.7 162.4h0M296.1 162.2h0M296.5 162.0h0M296.9 161.8h0M297.2 161.6h0M297.6 161.4h0M298.0 161.2h0M298.4 161.0h0M298.8 160.9h0M299.1 160.7h0M299.5 160.5h0M299.9 160.3h0M300.3 160.1h0M300.7 159.9h0M301.0 159.7h0M301.4 159.6h0M301.8 159.4h0M302.2 159.2h0M302.6 159.0h0M302.9 158.8h0M303.3 158.7h0M303.7 158.5h0M304.1 158.3h0M304.5 158.1h0M304.8 158.0h0M305.2 157.8h0M305.6 157.6h0M306.0 157.4h0M306.4 157.3h0M306.7 157.1h0M307.1 156.9h0M307.5 156.7h0M307.9 156.6h0M308.3 156.4h0M308.7 156.2h0M309.0 156.1h0M309.4 155.9h0M309.8 155.7h0M310.2 155.5h0M310.6 155.4h0M310.9 155.2h0M311.3 155.0h0M311.7 154.9h0M312.1 154.7h0M312.5 154.6h0M312.8 154.4h0M313.2 154.2h0M313.6 154.1h0M314.0 153.9h0M314.4 153.7h0M314.7 153.6h0M315.1 153.4h0M315.5 153.3h0M315.9 153.1h0M316.3 152.9h0M316.6 152.8h0M317.0 152.6h0M317.4 152.5h0M317.8 152.3h0M318.2 152.2h0M318.6 152.0h0M318.9 151.8h0M319.3 151.7h0M319.7 151.5h0M320.1 151.4h0M320.5 151.2h0M320.8 151.1h0M321.2 150.9h0M321.6 150.8h0M322.0 150.6h0M322.4 150.5h0M322.7 150.3h0M323.1 150.2h0M323.5 150.0h0M323.9 149.9h0M324.3 149.7h0M324.6 149.6h0M325.0 149.4h0M325.4 149.3h0M325.8 149.1h0M326.2 149.0h0M326.5 148.8h0M326.9 148.7h0M327.3 148.6h0M327.7 148.4h0M328.1 148.3h0M328.4 148.1h0M328.8 148.0h0M329.2 147.8h0M329.6 147.7h0M330.0 147.6h0M330.4 147.4h0M330.7 147.3h0M331.1 147.1h0M331.5 147.0h0M331.9 146.9h0M332.3 146.7h0M332.6 146.6h0M333.0 146.4h0M333.4 146.3h0M333.8 146.2h0M334.2 146.0h0M334.5 145.9h0M334.9 145.7h0M335.3 145.6h0M335.7 145.5h0M336.1 145.3h0M336.4 145.2h0M336.8 145.1h0M337.2 144.9h0M337.6 144.8h0M338.0 144.7h0M338.3 144.5h0M338.7 144.4h0M339.1 144.3h0M339.5 144.1h0M339.9 144.0h0M340.3 143.9h0M340.6 143.7h0M341.0 143.6h0M341.4 143.5h0M341.8 143.4h0M342.2 143.2h0M342.5 143.1h0M342.9 143.0h0M343.3 142.8h0M343.7 142.7h0M344.1 142.6h0M344.4 142.5h0M344.8 142.3h0M345.2 142.2h0M345.6 142.1h0M346.0 142.0h0M346.3 141.8h0M346.7 141.7h0M347.1 141.6h0M347.5 141.5h0M347.9 141.3h0M348.2 141.2h0M348.6 141.1h0M349.0 141.0h0M349.4 140.8h0M349.8 140.7h0M350.1 140.6h0M350.5 140.5h0M350.9 140.3h0M351.3 140.2h0M351.7 140.1h0M352.1 140.0h0M352.4 139.9h0M352.8 139.7h0M353.2 139.6h0M353.6 139.5h0M354.0 139.4h0M354.3 139.3h0M354.7 139.1h0M355.1 139.0h0M355.5 138.9h0M355.9 138.8h0M356.2 138.7h0M356.6 138.6h0M357.0 138.4h0M357.4 138.3h0M357.8 138.2h0M358.1 138.1h0M358.5 138.0h0M358.9 137.9h0M359.3 137.7h0M359.7 137.6h0M360.0 137.5h0M360.4 137.4h0M360.8 137.3h0M361.2 137.2h0M361.6 137.1h0M362.0 136.9h0M362.3 136.8h0M362.7 136.7h0M363.1 136.6h0M363.5 136.5h0M363.9 136.4h0M364.2 136.3h0M364.6 136.2h0M365.0 136.0h0M365.4 135.9h0M365.8 135.8h0M366.1 135.7h0M366.5 135.6h0M366.9 135.5h0M367.3 135.4h0M367.7 135.3h0M368.0 135.2h0M368.4 135.1h0M368.8 135.0h0M369.2 134.8h0M369.6 134.7h0M369.9 134.6h0M370.3 134.5h0M370.7 134.4h0M371.1 134.3h0M371.5 134.2h0M371.8 134.1h0M372.2 134.0h0M372.6 133.9h0M373.0 133.8h0M373.4 133.7h0M373.8 133.6h0M374.1 133.5h0M374.5 133.4h0M374.9 133.2h0M375.3 133.1h0M375.7 133.0h0M376.0 132.9h0M376.4 132.8h0M376.8 132.7h0M377.2 132.6h0M377.6 132.5h0M377.9 132.4h0M378.3 132.3h0M378.7 132.2h0M379.1 132.1h0M379.5 132.0h0M379.8 131.9h0M380.2 131.8h0M380.6 131.7h0M381.0 131.6h0M381.4 131.5h0M381.7 131.4h0M382.1 131.3h0M382.5 131.2h0M382.9 131.1h0M383.3 131.0h0M383.7 130.9h0M384.0 130.8h0M384.4 130.7h0M384.8 130.6h0M385.2 130.5h0M385.6 130.4h0M385.9 130.3h0M386.3 130.2h0M386.7 130.1h0M387.1 130.0h0M387.5 129.9h0M387.8 129.8h0M388.2 129.7h0M388.6 129.6h0M389.0 129.5h0M389.4 129.4h0M389.7 129.3h0M390.1 129.2h0M390.5 129.1h0M390.9 129.0h0M391.3 128.9h0M391.6 128.9h0M392.0 128.8h0M392.4 128.7h0M392.8 128.6h0M393.2 128.5h0M393.5 128.4h0M393.9 128.3h0M394.3 128.2h0M394.7 128.1h0M395.1 128.0h0M395.5 127.9h0M395.8 127.8h0M396.2 127.7h0M396.6 127.6h0M397.0 127.5h0M397.4 127.4h0M397.7 127.3h0M398.1 127.3h0M398.5 127.2h0M398.9 127.1h0M399.3 127.0h0M399.6 126.9h0M400.0 126.8h0M400.4 126.7h0M400.8 126.6h0M401.2 126.5h0M401.5 126.4h0M401.9 126.3h0M402.3 126.3h0M402.7 126.2h0M403.1 126.1h0M403.4 126.0h0M403.8 125.9h0M404.2 125.8h0M404.6 125.7h0M405.0 125.6h0M405.4 125.5h0M405.7 125.4h0M406.1 125.4h0M406.5 125.3h0M406.9 125.2h0M407.3 125.1h0M407.6 125.0h0M408.0 124.9h0M408.4 124.8h0M408.8 124.7h0M409.2 124.7h0M409.5 124.6h0M409.9 124.5h0M410.3 124.4h0M410.7 124.3h0M411.1 124.2h0M411.4 124.1h0M411.8 124.0h0M412.2 124.0h0M412.6 123.9h0M413.0 123.8h0M413.3 123.7h0M413.7 123.6h0M414.1 123.5h0M414.5 123.4h0M414.9 123.4h0M415.2 123.3h0M415.6 123.2h0M416.0 123.1h0M416.4 123.0h0M416.8 122.9h0M417.2 122.9h0M417.5 122.8h0M417.9 122.7h0M418.3 122.6h0M418.7 122.5h0M419.1 122.4h0M419.4 122.4h0M419.8 122.3h0M420.2 122.2h0M420.6 122.1h0M421.0 122.0h0M421.3 121.9h0M421.7 121.9h0M422.1 121.8h0M422.5 121.7h0M422.9 121.6h0M423.2 121.5h0M423.6 121.4h0M424.0 121.4h0M424.4 121.3h0M424.8 121.2h0M425.1 121.1h0M425.5 121.0h0M425.9 121.0h0M426.3 120.9h0M426.7 120.8h0M427.1 120.7h0M427.4 120.6h0M427.8 120.6h0M428.2 120.5h0M428.6 120.4h0M429.0 120.3h0M429.3 120.2h0M429.7 120.2h0M430.1 120.1h0M430.5 120.0h0M430.9 119.9h0M431.2 119.8h0" stroke="#dcdcdc"/>
<path d="M191.0 263.1h0M191.4 264.7h0M191.8 266.4h0M192.2 268.1h0M192.5 270.0h0M192.9 271.8h0M193.3 273.8h0M193.7 275.9h0M194.1 278.0h0M194.4 280.3h0M194.8 282.6h0M195.2 285.1h0M195.6 287.7h0M196.0 290.4h0M196.3 293.4h0M196.7 296.5h0M197.1 299.8h0M197.5 303.4h0M197.9 307.2h0M198.3 311.4h0M198.6 315.9h0M199.0 320.9h0M199.4 326.4h0M199.8 332.5h0M200.2 339.5h0M200.5 347.3h0M200.9 356.1h0M201.3 365.7h0M201.7 375.1h0M202.8 373.0h0M203.2 363.4h0M203.6 353.9h0M204.0 345.3h0M204.3 337.7h0M204.7 331.0h0M205.1 325.0h0M205.5 319.6h0M205.9 314.8h0M206.2 310.3h0M206.6 306.3h0M207.0 302.5h0M207.4 299.0h0M207.8 295.7h0M208.1 292.7h0M208.5 289.8h0M208.9 287.1h0M209.3 284.5h0M209.7 282.0h0M210.1 279.7h0M210.4 277.5h0M210.8 275.4h0M211.2 273.3h0M211.6 271.4h0M212.0 269.5h0M212.3 267.7h0M212.7 266.0h0M213.1 264.3h0M213.5 262.7h0" stroke="#dcdcdc" stroke-width="2.2"/>
<path d="M73.0 147.2h0M73.4 147.5h0M73.8 147.7h0M74.1 147.9h0M74.5 148.1h0M74.9 148.3h0M75.3 148.5h0M75.7 148.8h0M76.0 149.0h0M76.4 149.2h0M76.8 149.4h0M77.2 149.6h0M77.6 149.9h0M77.9 150.1h0M78.3 150.3h0M78.7 150.5h0M79.1 150.8h0M79.5 151.0h0M79.9 151.2h0M80.2 151.4h0M80.6 151.7h0M81.0 151.9h0M81.4 152.1h0M81.8 152.4h0M82.1 152.6h0M82.5 152.8h0M82.9 153.1h0M83.3 153.3h0M83.7 153.6h0M84.0 153.8h0M84.4 154.0h0M84.8 154.3h0M85.2 154.5h0M85.6 154.8h0M85.9 155.0h0M86.3 155.3h0M86.7 155.5h0M87.1 155.8h0M87.5 156.0h0M87.8 156.3h0M88.2 156.5h0M88.6 156.8h0M89.0 157.1h0M89.4 157.3h0M89.8 157.6h0M90.1 157.8h0M90.5 158.1h0M90.9 158.4h0M91.3 158.6h0M91.7 158.9h0M92.0 159.2h0M92.4 159.5h0M92.8 159.7h0M93.2 160.0h0M93.6 160.3h0M93.9 160.6h0M94.3 160.8h0M94.7 161.1h0M95.1 161.4h0M95.5 161.7h0M95.8 162.0h0M96.2 162.3h0M96.6 162.6h0M97.0 162.9h0M97.4 163.1h0M97.7 163.4h0M98.1 163.7h0M98.5 164.0h0M98.9 164.3h0M99.3 164.6h0M99.6 165.0h0M100.0 165.3h0M100.4 165.6h0M100.8 165.9h0M101.2 166.2h0M101.6 166.5h0M101.9 166.8h0M102.3 167.1h0M102.7 167.5h0M103.1 167.8h0M103.5 168.1h0M103.8 168.4h0M104.2 168.8h0M104.6 169.1h0M105.0 169.4h0M105.4 169.8h0M105.7 170.1h0M106.1 170.5h0M106.5 170.8h0M106.9 171.2h0M107.3 171.5h0M107.6 171.9h0M108.0 172.2h0M108.4 172.6h0M108.8 172.9h0M109.2 173.3h0M109.5 173.7h0M109.9 174.0h0M110.3 174.4h0M110.7 174.8h0M111.1 175.2h0M111.5 175.6h0M111.8 175.9h0M112.2 176.3h0M112.6 176.7h0M113.0 177.1h0M113.4 177.5h0M113.7 177.9h0M114.1 178.3h0M114.5 178.7h0M114.9 179.1h0M115.3 179.5h0M115.6 180.0h0M116.0 180.4h0M116.4 180.8h0M116.8 181.2h0M117.2 181.7h0M117.5 182.1h0M117.9 182.6h0M118.3 183.0h0M118.7 183.5h0M119.1 183.9h0M119.4 184.4h0M119.8 184.8h0M120.2 185.3h0M120.6 185.8h0M121.0 186.3h0M121.3 186.7h0M121.7 187.2h0M122.1 187.7h0M122.5 188.2h0M122.9 188.7h0M123.3 189.2h0M123.6 189.7h0M124.0 190.3h0M124.4 190.8h0M124.8 191.3h0M125.2 191.8h0M125.5 192.4h0M125.9 192.9h0M126.3 193.5h0M126.7 194.1h0M127.1 194.6h0M127.4 195.2h0M127.8 195.8h0M128.2 196.4h0M128.6 197.0h0M129.0 197.6h0M129.3 198.2h0M129.7 198.8h0M130.1 199.4h0M130.5 200.1h0M130.9 200.7h0M131.2 201.4h0M131.6 202.0h0M132.0 202.7h0M132.4 203.4h0M132.8 204.1h0M133.2 204.8h0M133.5 205.5h0M133.9 206.2h0M134.3 207.0h0M134.7 207.7h0M135.1 208.5h0M135.4 209.3h0M135.8 210.0h0M136.2 210.8h0M136.6 211.7h0M137.0 212.5h0M137.3 213.3h0M137.7 214.2h0M138.1 215.1h0M138.5 215.9h0M138.9 216.8h0M139.2 217.8h0M139.6 218.7h0M140.0 219.7h0M140.4 220.6h0M140.8 221.6h0M141.1 222.7h0M141.5 223.7h0M141.9 224.8h0M142.3 225.9h0M142.7 227.0h0M143.0 228.1h0M143.4 229.3h0M143.8 230.5h0M144.2 231.7h0M144.6 233.0h0M145.0 234.3h0M145.3 235.7h0M145.7 237.0h0M146.1 238.4h0M146.5 239.9h0M146.9 241.4h0M170.1 242.7h0M170.5 241.2h0M170.8 239.7h0M171.2 238.2h0M171.6 236.8h0M172.0 235.4h0M172.4 234.1h0M172.7 232.8h0M173.1 231.5h0M173.5 230.3h0M173.9 229.1h0M174.3 228.0h0M174.6 226.8h0M175.0 225.7h0M175.4 224.6h0M175.8 223.5h0M176.2 222.5h0M176.6 221.5h0M176.9 220.5h0M177.3 219.5h0M177.7 218.6h0M178.1 217.6h0M178.5 216.7h0M178.8 215.8h0M179.2 214.9h0M179.6 214.0h0M180.0 213.2h0M180.4 212.3h0M180.7 211.5h0M181.1 210.7h0M181.5 209.9h0M181.9 209.1h0M182.3 208.4h0M182.6 207.6h0M183.0 206.9h0M183.4 206.1h0M183.8 205.4h0M184.2 204.7h0M184.5 204.0h0M184.9 203.3h0M185.3 202.6h0M185.7 201.9h0M186.1 201.3h0M186.4 200.6h0M186.8 200.0h0M187.2 199.3h0M187.6 198.7h0M188.0 198.1h0M188.4 197.5h0M188.7 196.9h0M189.1 196.3h0M189.5 195.7h0M189.9 195.1h0M190.3 194.5h0M190.6 194.0h0M191.0 193.4h0M191.4 192.9h0M191.8 192.3h0M192.2 191.8h0M192.5 191.2h0M192.9 190.7h0M193.3 190.2h0M193.7 189.7h0M194.1 189.1h0M194.4 188.6h0M194.8 188.1h0M195.2 187.6h0M195.6 187.1h0M196.0 186.7h0M196.3 186.2h0M196.7 185.7h0M197.1 185.2h0M197.5 184.8h0M197.9 184.3h0M198.3 183.8h0M198.6 183.4h0M199.0 182.9h0M199.4 182.5h0M199.8 182.0h0M200.2 181.6h0M200.5 181.2h0M200.9 180.7h0M201.3 180.3h0M201.7 179.9h0M202.1 179.5h0M202.4 179.1h0M202.8 178.7h0M203.2 178.2h0M203.6 177.8h0M204.0 177.4h0M204.3 177.0h0M204.7 176.7h0M205.1 176.3h0M205.5 175.9h0M205.9 175.5h0M206.2 175.1h0M206.6 174.7h0M207.0 174.4h0M207.4 174.0h0M207.8 173.6h0M208.1 173.3h0M208.5 172.9h0M208.9 172.5h0M209.3 172.2h0M209.7 171.8h0M210.1 171.5h0M210.4 171.1h0M210.8 170.8h0M211.2 170.4h0M211.6 170.1h0M212.0 169.7h0M212.3 169.4h0M212.7 169.1h0M213.1 168.7h0M213.5 168.4h0M213.9 168.1h0M214.2 167.7h0M214.6 167.4h0M215.0 167.1h0M215.4 166.8h0M215.8 166.5h0M216.1 166.1h0M216.5 165.8h0M216.9 165.5h0M217.3 165.2h0M217.7 164.9h0M218.0 164.6h0M218.4 164.3h0M218.8 164.0h0M219.2 163.7h0M219.6 163.4h0M220.0 163.1h0M220.3 162.8h0M220.7 162.5h0M221.1 162.2h0M221.5 161.9h0M221.9 161.6h0M222.2 161.4h0M222.6 161.1h0M223.0 160.8h0M223.4 160.5h0M223.8 160.2h0M224.1 160.0h0M224.5 159.7h0M224.9 159.4h0M225.3 159.1h0M225.7 158.9h0M226.0 158.6h0M226.4 158.3h0M226.8 158.1h0M227.2 157.8h0M227.6 157.5h0M227.9 157.3h0M228.3 157.0h0M228.7 156.8h0M229.1 156.5h0M229.5 156.3h0M229.8 156.0h0M230.2 155.7h0M230.6 155.5h0M231.0 155.2h0M231.4 155.0h0M231.8 154.7h0M232.1 154.5h0M232.5 154.3h0M232.9 154.0h0M233.3 153.8h0M233.7 153.5h0M234.0 153.3h0M234.4 153.0h0M234.8 152.8h0M235.2 152.6h0M235.6 152.3h0M235.9 152.1h0M236.3 151.9h0M236.7 151.6h0M237.1 151.4h0M237.5 151.2h0M237.8 150.9h0M238.2 150.7h0M238.6 150.5h0M239.0 150.3h0M239.4 150.0h0M239.7 149.8h0M240.1 149.6h0M240.5 149.4h0M240.9 149.2h0M241.3 148.9h0M241.7 148.7h0M242.0 148.5h0M242.4 148.3h0M242.8 148.1h0M243.2 147.9h0M243.6 147.6h0M243.9 147.4h0M244.3 147.2h0M244.7 147.0h0M245.1 146.8h0M245.5 146.6h0M245.8 146.4h0M246.2 146.2h0M246.6 146.0h0M247.0 145.8h0M247.4 145.6h0M247.7 145.4h0M248.1 145.2h0M248.5 144.9h0M248.9 144.7h0M249.3 144.5h0M249.6 144.3h0M250.0 144.2h0M250.4 144.0h0M250.8 143.8h0M251.2 143.6h0M251.5 143.4h0M251.9 143.2h0M252.3 143.0h0M252.7 142.8h0M253.1 142.6h0M253.5 142.4h0M253.8 142.2h0M254.2 142.0h0M254.6 141.8h0M255.0 141.6h0M255.4 141.5h0M255.7 141.3h0M256.1 141.1h0M256.5 140.9h0M256.9 140.7h0M257.3 140.5h0M257.6 140.4h0M258.0 140.2h0M258.4 140.0h0M258.8 139.8h0M259.2 139.6h0M259.5 139.4h0M259.9 139.3h0M260.3 139.1h0M260.7 138.9h0M261.1 138.7h0M261.4 138.6h0M261.8 138.4h0M262.2 138.2h0M262.6 138.0h0M263.0 137.9h0M263.4 137.7h0M263.7 137.5h0M264.1 137.3h0M264.5 137.2h0M264.9 137.0h0M265.3 136.8h0M265.6 136.7h0M266.0 136.5h0M266.4 136.3h0M266.8 136.2h0M267.2 136.0h0M267.5 135.8h0M267.9 135.7h0M268.3 135.5h0M268.7 135.3h0M269.1 135.2h0M269.4 135.0h0M269.8 134.8h0M270.2 134.7h0M270.6 134.5h0M271.0 134.4h0M271.3 134.2h0M271.7 134.0h0M272.1 133.9h0M272.5 133.7h0M272.9 133.6h0M273.2 133.4h0M273.6 133.2h0M274.0 133.1h0M274.4 132.9h0M274.8 132.8h0M275.2 132.6h0M275.5 132.5h0M275.9 132.3h0M276.3 132.2h0M276.7 132.0h0M277.1 131.8h0M277.4 131.7h0M277.8 131.5h0M278.2 131.4h0M278.6 131.2h0M279.0 131.1h0M279.3 130.9h0M279.7 130.8h0M280.1 130.6h0M280.5 130.5h0M280.9 130.3h0M281.2 130.2h0M281.6 130.1h0M282.0 129.9h0M282.4 129.8h0M282.8 129.6h0M283.1 129.5h0M283.5 129.3h0M283.9 129.2h0M284.3 129.0h0M284.7 128.9h0M285.0 128.7h0M285.4 128.6h0M285.8 128.5h0M286.2 128.3h0M286.6 128.2h0M287.0 128.0h0M287.3 127.9h0M287.7 127.8h0M288.1 127.6h0M288.5 127.5h0M288.9 127.3h0M289.2 127.2h0M289.6 127.1h0M290.0 126.9h0M290.4 126.8h0M290.8 126.6h0M291.1 126.5h0M291.5 126.4h0M291.9 126.2h0M292.3 126.1h0M292.7 126.0h0M293.0 125.8h0M293.4 125.7h0M293.8 125.6h0M294.2 125.4h0M294.6 125.3h0M294.9 125.2h0M295.3 125.0h0M295.7 124.9h0M296.1 124.8h0M296.5 124.6h0M296.9 124.5h0M297.2 124.4h0M297.6 124.2h0M298.0 124.1h0M298.4 124.0h0M298.8 123.9h0M299.1 123.7h0M299.5 123.6h0M299.9 123.5h0M300.3 123.3h0M300.7 123.2h0M301.0 123.1h0M301.4 123.0h0M301.8 122.8h0M302.2 122.7h0M302.6 122.6h0M302.9 122.5h0M303.3 122.3h0M303.7 122.2h0M304.1 122.1h0M304.5 122.0h0M304.8 121.8h0M305.2 121.7h0M305.6 121.6h0M306.0 121.5h0M306.4 121.3h0M306.7 121.2h0M307.1 121.1h0M307.5 121.0h0M307.9 120.9h0M308.3 120.7h0M308.7 120.6h0M309.0 120.5h0M309.4 120.4h0M309.8 120.3h0M310.2 120.1h0M310.6 120.0h0M310.9 119.9h0M311.3 119.8h0M311.7 119.7h0M312.1 119.5h0M312.5 119.4h0M312.8 119.3h0M313.2 119.2h0M313.6 119.1h0M314.0 119.0h0M314.4 118.8h0M314.7 118.7h0M315.1 118.6h0M315.5 118.5h0M315.9 118.4h0M316.3 118.3h0M316.6 118.2h0M317.0 118.0h0M317.4 117.9h0M317.8 117.8h0M318.2 117.7h0M318.6 117.6h0M318.9 117.5h0M319.3 117.4h0M319.7 117.2h0M320.1 117.1h0M320.5 117.0h0M320.8 116.9h0M321.2 116.8h0M321.6 116.7h0M322.0 116.6h0M322.4 116.5h0M322.7 116.4h0M323.1 116.2h0M323.5 116.1h0M323.9 116.0h0M324.3 115.9h0M324.6 115.8h0M325.0 115.7h0M325.4 115.6h0M325.8 115.5h0M326.2 115.4h0M326.5 115.3h0M326.9 115.2h0M327.3 115.1h0M327.7 114.9h0M328.1 114.8h0M328.4 114.7h0M328.8 114.6h0M329.2 114.5h0M329.6 114.4h0M330.0 114.3h0M330.4 114.2h0M330.7 114.1h0M331.1 114.0h0M331.5 113.9h0M331.9 113.8h0M332.3 113.7h0M332.6 113.6h0M333.0 113.5h0M333.4 113.4h0M333.8 113.3h0M334.2 113.2h0M334.5 113.1h0M334.9 113.0h0M335.3 112.9h0M335.7 112.8h0M336.1 112.7h0M336.4 112.5h0M336.8 112.4h0M337.2 112.3h0M337.6 112.2h0M338.0 112.1h0M338.3 112.0h0M338.7 111.9h0M339.1 111.8h0M339.5 111.7h0M339.9 111.6h0M340.3 111.5h0M340.6 111.4h0M341.0 111.3h0M341.4 111.2h0M341.8 111.1h0M342.2 111.0h0M342.5 110.9h0M342.9 110.9h0M343.3 110.8h0M343.7 110.7h0M344.1 110.6h0M344.4 110.5h0M344.8 110.4h0M345.2 110.3h0M345.6 110.2h0M346.0 110.1h0M346.3 110.0h0M346.7 109.9h0M347.1 109.8h0M347.5 109.7h0M347.9 109.6h0M348.2 109.5h0M348.6 109.4h0M349.0 109.3h0M349.4 109.2h0M349.8 109.1h0M350.1 109.0h0M350.5 108.9h0M350.9 108.8h0M351.3 108.7h0M351.7 108.6h0M352.1 108.6h0M352.4 108.5h0M352.8 108.4h0M353.2 108.3h0M353.6 108.2h0M354.0 108.1h0M354.3 108.0h0M354.7 107.9h0M355.1 107.8h0M355.5 107.7h0M355.9 107.6h0M356.2 107.5h0M356.6 107.4h0M357.0 107.4h0M357.4 107.3h0M357.8 107.2h0M358.1 107.1h0M358.5 107.0h0M358.9 106.9h0M359.3 106.8h0M359.7 106.7h0M360.0 106.6h0M360.4 106.5h0M360.8 106.5h0M361.2 106.4h0M361.6 106.3h0M362.0 106.2h0M362.3 106.1h0M362.7 106.0h0M363.1 105.9h0M363.5 105.8h0M363.9 105.7h0M364.2 105.7h0M364.6 105.6h0M365.0 105.5h0M365.4 105.4h0M365.8 105.3h0M366.1 105.2h0M366.5 105.1h0M366.9 105.0h0M367.3 105.0h0M367.7 104.9h0M368.0 104.8h0M368.4 104.7h0M368.8 104.6h0M369.2 104.5h0M369.6 104.4h0M369.9 104.4h0M370.3 104.3h0M370.7 104.2h0M371.1 104.1h0M371.5 104.0h0M371.8 103.9h0M372.2 103.8h0M372.6 103.8h0M373.0 103.7h0M373.4 103.6h0M373.8 103.5h0M374.1 103.4h0M374.5 103.3h0M374.9 103.3h0M375.3 103.2h0M375.7 103.1h0M376.0 103.0h0M376.4 102.9h0M376.8 102.8h0M377.2 102.8h0M377.6 102.7h0M377.9 102.6h0M378.3 102.5h0M378.7 102.4h0M379.1 102.3h0M379.5 102.3h0M379.8 102.2h0M380.2 102.1h0M380.6 102.0h0M381.0 101.9h0M381.4 101.9h0M381.7 101.8h0M382.1 101.7h0M382.5 101.6h0M382.9 101.5h0M383.3 101.4h0M383.7 101.4h0M384.0 101.3h0M384.4 101.2h0M384.8 101.1h0M385.2 101.0h0M385.6 101.0h0M385.9 100.9h0M386.3 100.8h0M386.7 100.7h0M387.1 100.7h0M387.5 100.6h0M387.8 100.5h0M388.2 100.4h0M388.6 100.3h0M389.0 100.3h0M389.4 100.2h0M389.7 100.1h0M390.1 100.0h0M390.5 99.9h0M390.9 99.9h0M391.3 99.8h0M391.6 99.7h0M392.0 99.6h0M392.4 99.6h0M392.8 99.5h0M393.2 99.4h0M393.5 99.3h0M393.9 99.2h0M394.3 99.2h0M394.7 99.1h0M395.1 99.0h0M395.5 98.9h0M395.8 98.9h0M396.2 98.8h0M396.6 98.7h0M397.0 98.6h0M397.4 98.6h0M397.7 98.5h0M398.1 98.4h0M398.5 98.3h0M398.9 98.3h0M399.3 98.2h0M399.6 98.1h0M400.0 98.0h0M400.4 98.0h0M400.8 97.9h0M401.2 97.8h0M401.5 97.7h0M401.9 97.7h0M402.3 97.6h0M402.7 97.5h0M403.1 97.4h0M403.4 97.4h0M403.8 97.3h0M404.2 97.2h0M404.6 97.1h0M405.0 97.1h0M405.4 97.0h0M405.7 96.9h0M406.1 96.8h0M406.5 96.8h0M406.9 96.7h0M407.3 96.6h0M407.6 96.6h0M408.0 96.5h0M408.4 96.4h0M408.8 96.3h0M409.2 96.3h0M409.5 96.2h0M409.9 96.1h0M410.3 96.1h0M410.7 96.0h0M411.1 95.9h0M411.4 95.8h0M411.8 95.8h0M412.2 95.7h0M412.6 95.6h0M413.0 95.6h0M413.3 95.5h0M413.7 95.4h0M414.1 95.3h0M414.5 95.3h0M414.9 95.2h0M415.2 95.1h0M415.6 95.1h0M416.0 95.0h0M416.4 94.9h0M416.8 94.8h0M417.2 94.8h0M417.5 94.7h0M417.9 94.6h0M418.3 94.6h0M418.7 94.5h0M419.1 94.4h0M419.4 94.4h0M419.8 94.3h0M420.2 94.2h0M420.6 94.2h0M421.0 94.1h0M421.3 94.0h0M421.7 93.9h0M422.1 93.9h0M422.5 93.8h0M422.9 93.7h0M423.2 93.7h0M423.6 93.6h0M424.0 93.5h0M424.4 93.5h0M424.8 93.4h0M425.1 93.3h0M425.5 93.3h0M425.9 93.2h0M426.3 93.1h0M426.7 93.1h0" stroke="#40e0d0"/>
<path d="M147.2 243.0h0M147.6 244.6h0M148.0 246.2h0M148.4 248.0h0M148.8 249.8h0M149.1 251.6h0M149.5 253.6h0M149.9 255.6h0M150.3 257.7h0M150.7 259.9h0M151.0 262.2h0M151.4 264.6h0M151.8 267.2h0M152.2 269.9h0M152.6 272.8h0M152.9 275.8h0M153.3 279.1h0M153.7 282.6h0M154.1 286.3h0M154.5 290.4h0M154.9 294.8h0M155.2 299.8h0M155.6 305.2h0M156.0 311.3h0M156.4 318.3h0M156.8 326.3h0M157.1 335.9h0M157.5 347.2h0M157.9 360.8h0M158.3 375.1h0M158.7 381.7h0M159.0 373.0h0M159.4 358.5h0M159.8 345.3h0M160.2 334.2h0M160.6 325.0h0M160.9 317.1h0M161.3 310.3h0M161.7 304.3h0M162.1 298.9h0M162.5 294.1h0M162.8 289.7h0M163.2 285.7h0M163.6 282.0h0M164.0 278.5h0M164.4 275.3h0M164.7 272.3h0M165.1 269.5h0M165.5 266.8h0M165.9 264.2h0M166.3 261.8h0M166.7 259.5h0M167.0 257.3h0M167.4 255.3h0M167.8 253.2h0M168.2 251.3h0M168.6 249.5h0M168.9 247.7h0M169.3 246.0h0M169.7 244.3h0" stroke="#40e0d0" stroke-width="2.2"/>
<path d="M73.0 148.9h0M73.4 149.3h0M73.8 149.6h0M74.1 149.9h0M74.5 150.3h0M74.9 150.6h0M75.3 151.0h0M75.7 151.3h0M76.0 151.6h0M76.4 152.0h0M76.8 152.3h0M77.2 152.7h0M77.6 153.1h0M77.9 153.4h0M78.3 153.8h0M78.7 154.1h0M79.1 154.5h0M79.5 154.9h0M79.9 155.2h0M80.2 155.6h0M80.6 156.0h0M81.0 156.4h0M81.4 156.8h0M81.8 157.2h0M82.1 157.5h0M82.5 157.9h0M82.9 158.3h0M83.3 158.7h0M83.7 159.1h0M84.0 159.6h0M84.4 160.0h0M84.8 160.4h0M85.2 160.8h0M85.6 161.2h0M85.9 161.6h0M86.3 162.1h0M86.7 162.5h0M87.1 162.9h0M87.5 163.4h0M87.8 163.8h0M88.2 164.3h0M88.6 164.7h0M89.0 165.2h0M89.4 165.7h0M89.8 166.1h0M90.1 166.6h0M90.5 167.1h0M90.9 167.6h0M91.3 168.1h0M91.7 168.5h0M92.0 169.0h0M92.4 169.5h0M92.8 170.1h0M93.2 170.6h0M93.6 171.1h0M93.9 171.6h0M94.3 172.1h0M94.7 172.7h0M95.1 173.2h0M95.5 173.8h0M95.8 174.3h0M96.2 174.9h0M96.6 175.5h0M97.0 176.0h0M97.4 176.6h0M97.7 177.2h0M98.1 177.8h0M98.5 178.4h0M98.9 179.0h0M99.3 179.7h0M99.6 180.3h0M100.0 180.9h0M100.4 181.6h0M100.8 182.2h0M101.2 182.9h0M101.6 183.6h0M101.9 184.2h0M102.3 184.9h0M102.7 185.6h0M103.1 186.4h0M103.5 187.1h0M103.8 187.8h0M104.2 188.6h0M104.6 189.3h0M105.0 190.1h0M105.4 190.9h0M105.7 191.7h0M106.1 192.5h0M106.5 193.3h0M106.9 194.2h0M107.3 195.0h0M107.6 195.9h0M108.0 196.8h0M108.4 197.7h0M108.8 198.6h0M109.2 199.6h0M109.5 200.5h0M109.9 201.5h0M110.3 202.5h0M110.7 203.5h0M111.1 204.6h0M111.5 205.6h0M111.8 206.7h0M112.2 207.9h0M112.6 209.0h0M113.0 210.2h0M113.4 211.4h0M113.7 212.6h0M114.1 213.9h0M114.5 215.2h0M114.9 216.5h0M115.3 217.9h0M115.6 219.3h0M116.0 220.8h0M116.4 222.3h0M139.6 223.5h0M140.0 222.0h0M140.4 220.5h0M140.8 219.0h0M141.1 217.6h0M141.5 216.3h0M141.9 214.9h0M142.3 213.6h0M142.7 212.4h0M143.0 211.1h0M143.4 209.9h0M143.8 208.8h0M144.2 207.6h0M144.6 206.5h0M145.0 205.4h0M145.3 204.4h0M145.7 203.3h0M146.1 202.3h0M146.5 201.3h0M146.9 200.3h0M147.2 199.4h0M147.6 198.4h0M148.0 197.5h0M148.4 196.6h0M148.8 195.7h0M149.1 194.9h0M149.5 194.0h0M149.9 193.2h0M150.3 192.3h0M150.7 191.5h0M151.0 190.7h0M151.4 189.9h0M151.8 189.2h0M152.2 188.4h0M152.6 187.7h0M152.9 186.9h0M153.3 186.2h0M153.7 185.5h0M154.1 184.8h0M154.5 184.1h0M154.9 183.4h0M155.2 182.8h0M155.6 182.1h0M156.0 181.4h0M156.4 180.8h0M156.8 180.2h0M157.1 179.5h0M157.5 178.9h0M157.9 178.3h0M158.3 177.7h0M158.7 177.1h0M159.0 176.5h0M159.4 175.9h0M159.8 175.3h0M160.2 174.8h0M160.6 174.2h0M160.9 173.7h0M161.3 173.1h0M161.7 172.6h0M162.1 172.0h0M162.5 171.5h0M162.8 171.0h0M163.2 170.5h0M163.6 170.0h0M164.0 169.4h0M164.4 168.9h0M164.7 168.4h0M165.1 168.0h0M165.5 167.5h0M165.9 167.0h0M166.3 166.5h0M166.7 166.0h0M167.0 165.6h0M167.4 165.1h0M167.8 164.7h0M168.2 164.2h0M168.6 163.7h0M168.9 163.3h0M169.3 162.9h0M169.7 162.4h0M170.1 162.0h0M170.5 161.6h0M170.8 161.1h0M171.2 160.7h0M171.6 160.3h0M172.0 159.9h0M172.4 159.5h0M172.7 159.1h0M173.1 158.7h0M173.5 158.3h0M173.9 157.9h0M174.3 157.5h0M174.6 157.1h0M175.0 156.7h0M175.4 156.3h0M175.8 155.9h0M176.2 155.5h0M176.6 155.2h0M176.9 154.8h0M177.3 154.4h0M177.7 154.1h0M178.1 153.7h0M178.5 153.3h0M178.8 153.0h0M179.2 152.6h0M179.6 152.3h0M180.0 151.9h0M180.4 151.6h0M180.7 151.2h0M181.1 150.9h0M181.5 150.5h0M181.9 150.2h0M182.3 149.9h0M182.6 149.5h0M183.0 149.2h0M183.4 148.9h0M183.8 148.6h0M184.2 148.2h0M184.5 147.9h0M184.9 147.6h0M185.3 147.3h0M185.7 147.0h0M186.1 146.6h0M186.4 146.3h0M186.8 146.0h0M187.2 145.7h0M187.6 145.4h0M188.0 145.1h0M188.4 144.8h0M188.7 144.5h0M189.1 144.2h0M189.5 143.9h0M189.9 143.6h0M190.3 143.3h0M190.6 143.0h0M191.0 142.8h0M191.4 142.5h0M191.8 142.2h0M192.2 141.9h0M192.5 141.6h0M192.9 141.3h0M193.3 141.1h0M193.7 140.8h0M194.1 140.5h0M194.4 140.2h0M194.8 140.0h0M195.2 139.7h0M195.6 139.4h0M196.0 139.2h0M196.3 138.9h0M196.7 138.6h0M197.1 138.4h0M197.5 138.1h0M197.9 137.8h0M198.3 137.6h0M198.6 137.3h0M199.0 137.1h0M199.4 136.8h0M199.8 136.6h0M200.2 136.3h0M200.5 136.1h0M200.9 135.8h0M201.3 135.6h0M201.7 135.3h0M202.1 135.1h0M202.4 134.8h0M202.8 134.6h0M203.2 134.3h0M203.6 134.1h0M204.0 133.9h0M204.3 133.6h0M204.7 133.4h0M205.1 133.1h0M205.5 132.9h0M205.9 132.7h0M206.2 132.4h0M206.6 132.2h0M207.0 132.0h0M207.4 131.8h0M207.8 131.5h0M208.1 131.3h0M208.5 131.1h0M208.9 130.9h0M209.3 130.6h0M209.7 130.4h0M210.1 130.2h0M210.4 130.0h0M210.8 129.7h0M211.2 129.5h0M211.6 129.3h0M212.0 129.1h0M212.3 128.9h0M212.7 128.7h0M213.1 128.5h0M213.5 128.2h0M213.9 128.0h0M214.2 127.8h0M214.6 127.6h0M215.0 127.4h0M215.4 127.2h0M215.8 127.0h0M216.1 126.8h0M216.5 126.6h0M216.9 126.4h0M217.3 126.2h0M217.7 126.0h0M218.0 125.8h0M218.4 125.6h0M218.8 125.4h0M219.2 125.2h0M219.6 125.0h0M220.0 124.8h0M220.3 124.6h0M220.7 124.4h0M221.1 124.2h0M221.5 124.0h0M221.9 123.8h0M222.2 123.6h0M222.6 123.4h0M223.0 123.2h0M223.4 123.0h0M223.8 122.8h0M224.1 122.7h0M224.5 122.5h0M224.9 122.3h0M225.3 122.1h0M225.7 121.9h0M226.0 121.7h0M226.4 121.5h0M226.8 121.4h0M227.2 121.2h0M227.6 121.0h0M227.9 120.8h0M228.3 120.6h0M228.7 120.4h0M229.1 120.3h0M229.5 120.1h0M229.8 119.9h0M230.2 119.7h0M230.6 119.6h0M231.0 119.4h0M231.4 119.2h0M231.8 119.0h0M232.1 118.9h0M232.5 118.7h0M232.9 118.5h0M233.3 118.3h0M233.7 118.2h0M234.0 118.0h0M234.4 117.8h0M234.8 117.7h0M235.2 117.5h0M235.6 117.3h0M235.9 117.1h0M236.3 117.0h0M236.7 116.8h0M237.1 116.6h0M237.5 116.5h0M237.8 116.3h0M238.2 116.1h0M238.6 116.0h0M239.0 115.8h0M239.4 115.7h0M239.7 115.5h0M240.1 115.3h0M240.5 115.2h0M240.9 115.0h0M241.3 114.9h0M241.7 114.7h0M242.0 114.5h0M242.4 114.4h0M242.8 114.2h0M243.2 114.1h0M243.6 113.9h0M243.9 113.7h0M244.3 113.6h0M244.7 113.4h0M245.1 113.3h0M245.5 113.1h0M245.8 113.0h0M246.2 112.8h0M246.6 112.7h0M247.0 112.5h0M247.4 112.4h0M247.7 112.2h0M248.1 112.1h0M248.5 111.9h0M248.9 111.8h0M249.3 111.6h0M249.6 111.5h0M250.0 111.3h0M250.4 111.2h0M250.8 111.0h0M251.2 110.9h0M251.5 110.7h0M251.9 110.6h0M252.3 110.4h0M252.7 110.3h0M253.1 110.1h0M253.5 110.0h0M253.8 109.9h0M254.2 109.7h0M254.6 109.6h0M255.0 109.4h0M255.4 109.3h0M255.7 109.1h0M256.1 109.0h0M256.5 108.9h0M256.9 108.7h0M257.3 108.6h0M257.6 108.4h0M258.0 108.3h0M258.4 108.2h0M258.8 108.0h0M259.2 107.9h0M259.5 107.7h0M259.9 107.6h0M260.3 107.5h0M260.7 107.3h0M261.1 107.2h0M261.4 107.1h0M261.8 106.9h0M262.2 106.8h0M262.6 106.7h0M263.0 106.5h0M263.4 106.4h0M263.7 106.3h0M264.1 106.1h0M264.5 106.0h0M264.9 105.9h0M265.3 105.7h0M265.6 105.6h0M266.0 105.5h0M266.4 105.3h0M266.8 105.2h0M267.2 105.1h0M267.5 104.9h0M267.9 104.8h0M268.3 104.7h0M268.7 104.5h0M269.1 104.4h0M269.4 104.3h0M269.8 104.2h0M270.2 104.0h0M270.6 103.9h0M271.0 103.8h0M271.3 103.7h0M271.7 103.5h0M272.1 103.4h0M272.5 103.3h0M272.9 103.2h0M273.2 103.0h0M273.6 102.9h0M274.0 102.8h0M274.4 102.7h0M274.8 102.5h0M275.2 102.4h0M275.5 102.3h0M275.9 102.2h0M276.3 102.0h0M276.7 101.9h0M277.1 101.8h0M277.4 101.7h0M277.8 101.6h0M278.2 101.4h0M278.6 101.3h0M279.0 101.2h0M279.3 101.1h0M279.7 101.0h0M280.1 100.8h0M280.5 100.7h0M280.9 100.6h0M281.2 100.5h0M281.6 100.4h0M282.0 100.2h0M282.4 100.1h0M282.8 100.0h0M283.1 99.9h0M283.5 99.8h0M283.9 99.7h0M284.3 99.5h0M284.7 99.4h0M285.0 99.3h0M285.4 99.2h0M285.8 99.1h0M286.2 99.0h0M286.6 98.9h0M287.0 98.7h0M287.3 98.6h0M287.7 98.5h0M288.1 98.4h0M288.5 98.3h0M288.9 98.2h0M289.2 98.1h0M289.6 98.0h0M290.0 97.8h0M290.4 97.7h0M290.8 97.6h0M291.1 97.5h0M291.5 97.4h0M291.9 97.3h0M292.3 97.2h0M292.7 97.1h0M293.0 97.0h0M293.4 96.8h0M293.8 96.7h0M294.2 96.6h0M294.6 96.5h0M294.9 96.4h0M295.3 96.3h0M295.7 96.2h0M296.1 96.1h0M296.5 96.0h0M296.9 95.9h0M297.2 95.8h0M297.6 95.7h0M298.0 95.6h0M298.4 95.4h0M298.8 95.3h0M299.1 95.2h0M299.5 95.1h0M299.9 95.0h0M300.3 94.9h0M300.7 94.8h0M301.0 94.7h0M301.4 94.6h0M301.8 94.5h0M302.2 94.4h0M302.6 94.3h0M302.9 94.2h0M303.3 94.1h0M303.7 94.0h0M304.1 93.9h0M304.5 93.8h0M304.8 93.7h0M305.2 93.6h0M305.6 93.5h0M306.0 93.4h0M306.4 93.3h0M306.7 93.2h0M307.1 93.1h0M307.5 93.0h0M307.9 92.9h0M308.3 92.8h0M308.7 92.7h0M309.0 92.6h0M309.4 92.5h0M309.8 92.4h0M310.2 92.3h0M310.6 92.2h0M310.9 92.1h0M311.3 92.0h0M311.7 91.9h0M312.1 91.8h0M312.5 91.7h0M312.8 91.6h0M313.2 91.5h0M313.6 91.4h0M314.0 91.3h0M314.4 91.2h0M314.7 91.1h0M315.1 91.0h0M315.5 90.9h0M315.9 90.8h0M316.3 90.7h0M316.6 90.6h0M317.0 90.5h0M317.4 90.4h0M317.8 90.3h0M318.2 90.2h0M318.6 90.1h0M318.9 90.0h0M319.3 89.9h0M319.7 89.8h0M320.1 89.7h0M320.5 89.7h0M320.8 89.6h0M321.2 89.5h0M321.6 89.4h0M322.0 89.3h0M322.4 89.2h0M322.7 89.1h0M323.1 89.0h0M323.5 88.9h0M323.9 88.8h0M324.3 88.7h0M324.6 88.6h0M325.0 88.5h0M325.4 88.4h0M325.8 88.4h0M326.2 88.3h0M326.5 88.2h0M326.9 88.1h0M327.3 88.0h0M327.7 87.9h0M328.1 87.8h0M328.4 87.7h0M328.8 87.6h0M329.2 87.5h0M329.6 87.4h0M330.0 87.4h0M330.4 87.3h0M330.7 87.2h0M331.1 87.1h0M331.5 87.0h0M331.9 86.9h0M332.3 86.8h0M332.6 86.7h0M333.0 86.6h0M333.4 86.6h0M333.8 86.5h0M334.2 86.4h0M334.5 86.3h0M334.9 86.2h0M335.3 86.1h0M335.7 86.0h0M336.1 85.9h0M336.4 85.9h0M336.8 85.8h0M337.2 85.7h0M337.6 85.6h0M338.0 85.5h0M338.3 85.4h0M338.7 85.3h0M339.1 85.3h0M339.5 85.2h0M339.9 85.1h0M340.3 85.0h0M340.6 84.9h0M341.0 84.8h0M341.4 84.7h0M341.8 84.7h0M342.2 84.6h0M342.5 84.5h0M342.9 84.4h0M343.3 84.3h0M343.7 84.2h0M344.1 84.2h0M344.4 84.1h0M344.8 84.0h0M345.2 83.9h0M345.6 83.8h0M346.0 83.7h0M346.3 83.7h0M346.7 83.6h0M347.1 83.5h0M347.5 83.4h0M347.9 83.3h0M348.2 83.2h0M348.6 83.2h0M349.0 83.1h0M349.4 83.0h0M349.8 82.9h0M350.1 82.8h0M350.5 82.8h0M350.9 82.7h0M351.3 82.6h0M351.7 82.5h0M352.1 82.4h0M352.4 82.3h0M352.8 82.3h0M353.2 82.2h0M353.6 82.1h0M354.0 82.0h0M354.3 81.9h0M354.7 81.9h0M355.1 81.8h0M355.5 81.7h0M355.9 81.6h0M356.2 81.5h0M356.6 81.5h0M357.0 81.4h0M357.4 81.3h0M357.8 81.2h0M358.1 81.2h0M358.5 81.1h0M358.9 81.0h0M359.3 80.9h0M359.7 80.8h0M360.0 80.8h0M360.4 80.7h0M360.8 80.6h0M361.2 80.5h0M361.6 80.5h0M362.0 80.4h0M362.3 80.3h0M362.7 80.2h0M363.1 80.1h0M363.5 80.1h0M363.9 80.0h0M364.2 79.9h0M364.6 79.8h0M365.0 79.8h0M365.4 79.7h0M365.8 79.6h0M366.1 79.5h0M366.5 79.5h0M366.9 79.4h0M367.3 79.3h0M367.7 79.2h0M368.0 79.2h0M368.4 79.1h0M368.8 79.0h0M369.2 78.9h0M369.6 78.9h0M369.9 78.8h0M370.3 78.7h0M370.7 78.6h0M371.1 78.6h0M371.5 78.5h0M371.8 78.4h0M372.2 78.3h0M372.6 78.3h0M373.0 78.2h0M373.4 78.1h0M373.8 78.0h0M374.1 78.0h0M374.5 77.9h0M374.9 77.8h0M375.3 77.7h0M375.7 77.7h0M376.0 77.6h0M376.4 77.5h0M376.8 77.4h0M377.2 77.4h0M377.6 77.3h0M377.9 77.2h0M378.3 77.2h0M378.7 77.1h0M379.1 77.0h0M379.5 76.9h0M379.8 76.9h0M380.2 76.8h0M380.6 76.7h0M381.0 76.7h0M381.4 76.6h0M381.7 76.5h0M382.1 76.4h0M382.5 76.4h0M382.9 76.3h0M383.3 76.2h0M383.7 76.2h0M384.0 76.1h0M384.4 76.0h0M384.8 75.9h0M385.2 75.9h0M385.6 75.8h0M385.9 75.7h0M386.3 75.7h0M386.7 75.6h0M387.1 75.5h0M387.5 75.5h0M387.8 75.4h0M388.2 75.3h0M388.6 75.2h0M389.0 75.2h0M389.4 75.1h0M389.7 75.0h0M390.1 75.0h0M390.5 74.9h0M390.9 74.8h0M391.3 74.8h0M391.6 74.7h0M392.0 74.6h0M392.4 74.6h0M392.8 74.5h0M393.2 74.4h0M393.5 74.4h0M393.9 74.3h0M394.3 74.2h0M394.7 74.1h0M395.1 74.1h0M395.5 74.0h0M395.8 73.9h0M396.2 73.9h0M396.6 73.8h0M397.0 73.7h0M397.4 73.7h0M397.7 73.6h0M398.1 73.5h0M398.5 73.5h0M398.9 73.4h0M399.3 73.3h0M399.6 73.3h0M400.0 73.2h0M400.4 73.1h0M400.8 73.1h0M401.2 73.0h0M401.5 72.9h0M401.9 72.9h0M402.3 72.8h0M402.7 72.7h0M403.1 72.7h0M403.4 72.6h0M403.8 72.5h0M404.2 72.5h0M404.6 72.4h0M405.0 72.4h0M405.4 72.3h0M405.7 72.2h0M406.1 72.2h0M406.5 72.1h0M406.9 72.0h0M407.3 72.0h0M407.6 71.9h0M408.0 71.8h0M408.4 71.8h0M408.8 71.7h0M409.2 71.6h0M409.5 71.6h0M409.9 71.5h0M410.3 71.4h0M410.7 71.4h0M411.1 71.3h0M411.4 71.3h0M411.8 71.2h0M412.2 71.1h0M412.6 71.1h0M413.0 71.0h0M413.3 70.9h0M413.7 70.9h0M414.1 70.8h0M414.5 70.7h0M414.9 70.7h0M415.2 70.6h0M415.6 70.6h0M416.0 70.5h0M416.4 70.4h0M416.8 70.4h0M417.2 70.3h0M417.5 70.2h0M417.9 70.2h0M418.3 70.1h0M418.7 70.1h0M419.1 70.0h0M419.4 69.9h0M419.8 69.9h0M420.2 69.8h0M420.6 69.7h0M421.0 69.7h0M421.3 69.6h0M421.7 69.6h0M422.1 69.5h0M422.5 69.4h0M422.9 69.4h0" stroke="#bc8f8f"/>
<path d="M116.8 223.9h0M117.2 225.5h0M117.5 227.1h0M117.9 228.9h0M118.3 230.7h0M118.7 232.5h0M119.1 234.5h0M119.4 236.5h0M119.8 238.6h0M120.2 240.8h0M120.6 243.2h0M121.0 245.6h0M121.3 248.2h0M121.7 250.9h0M122.1 253.8h0M122.5 256.8h0M122.9 260.1h0M123.3 263.6h0M123.6 267.5h0M124.0 271.6h0M124.4 276.1h0M124.8 281.1h0M125.2 286.7h0M125.5 293.0h0M125.9 300.2h0M126.3 308.7h0M126.7 318.9h0M127.1 331.6h0M127.4 348.2h0M127.8 369.2h0M128.2 381.6h0M128.6 364.8h0M129.0 344.5h0M129.3 328.8h0M129.7 316.7h0M130.1 306.8h0M130.5 298.7h0M130.9 291.6h0M131.2 285.5h0M131.6 280.1h0M132.0 275.2h0M132.4 270.7h0M132.8 266.7h0M133.2 262.9h0M133.5 259.5h0M133.9 256.2h0M134.3 253.2h0M134.7 250.3h0M135.1 247.6h0M135.4 245.1h0M135.8 242.7h0M136.2 240.4h0M136.6 238.2h0M137.0 236.1h0M137.3 234.1h0M137.7 232.2h0M138.1 230.3h0M138.5 228.5h0M138.9 226.8h0M139.2 225.1h0" stroke="#bc8f8f" stroke-width="2.2"/>
</g>
<path d="M80.61 419.20v-8.0M80.61 36.10v8.0M88.23 419.20v-8.0M88.23 36.10v8.0M95.84 419.20v-8.0M95.84 36.10v8.0M103.46 419.20v-8.0M103.46 36.10v8.0M111.07 419.20v-15.3M111.07 36.10v15.3M118.68 419.20v-8.0M118.68 36.10v8.0M126.30 419.20v-8.0M126.30 36.10v8.0M133.91 419.20v-8.0M133.91 36.10v8.0M141.53 419.20v-8.0M141.53 36.10v8.0M149.14 419.20v-15.3M149.14 36.10v15.3M156.75 419.20v-8.0M156.75 36.10v8.0M164.37 419.20v-8.0M164.37 36.10v8.0M171.98 419.20v-8.0M171.98 36.10v8.0M179.60 419.20v-8.0M179.60 36.10v8.0M187.21 419.20v-15.3M187.21 36.10v15.3M194.82 419.20v-8.0M194.82 36.10v8.0M202.44 419.20v-8.0M202.44 36.10v8.0M210.05 419.20v-8.0M210.05 36.10v8.0M217.67 419.20v-8.0M217.67 36.10v8.0M225.28 419.20v-15.3M225.28 36.10v15.3M232.89 419.20v-8.0M232.89 36.10v8.0M240.51 419.20v-8.0M240.51 36.10v8.0M248.12 419.20v-8.0M248.12 36.10v8.0M255.74 419.20v-8.0M255.74 36.10v8.0M263.35 419.20v-15.3M263.35 36.10v15.3M270.96 419.20v-8.0M270.96 36.10v8.0M278.58 419.20v-8.0M278.58 36.10v8.0M286.19 419.20v-8.0M286.19 36.10v8.0M293.81 419.20v-8.0M293.81 36.10v8.0M301.42 419.20v-15.3M301.42 36.10v15.3M309.03 419.20v-8.0M309.03 36.10v8.0M316.65 419.20v-8.0M316.65 36.10v8.0M324.26 419.20v-8.0M324.26 36.10v8.0M331.88 419.20v-8.0M331.88 36.10v8.0M339.49 419.20v-15.3M339.49 36.10v15.3M347.10 419.20v-8.0M347.10 36.10v8.0M354.72 419.20v-8.0M354.72 36.10v8.0M362.33 419.20v-8.0M362.33 36.10v8.0M369.95 419.20v-8.0M369.95 36.10v8.0M377.56 419.20v-15.3M377.56 36.10v15.3M385.17 419.20v-8.0M385.17 36.10v8.0M392.79 419.20v-8.0M392.79 36.10v8.0M400.40 419.20v-8.0M400.40 36.10v8.0M408.02 419.20v-8.0M408.02 36.10v8.0M415.63 419.20v-15.3M415.63 36.10v15.3M423.24 419.20v-8.0M423.24 36.10v8.0M430.86 419.20v-8.0M430.86 36.10v8.0M438.47 419.20v-8.0M438.47 36.10v8.0M446.09 419.20v-8.0M446.09 36.10v8.0M73.00 402.34h8.2M453.70 402.34h-8.2M73.00 392.72h8.2M453.70 392.72h-8.2M73.00 385.88h8.2M453.70 385.88h-8.2M73.00 380.59h8.2M453.70 380.59h-8.2M73.00 376.26h8.2M453.70 376.26h-8.2M73.00 372.60h8.2M453.70 372.60h-8.2M73.00 369.43h8.2M453.70 369.43h-8.2M73.00 366.63h8.2M453.70 366.63h-8.2M73.00 364.13h15.5M453.70 364.13h-15.5M73.00 347.67h8.2M453.70 347.67h-8.2M73.00 338.04h8.2M453.70 338.04h-8.2M73.00 331.21h8.2M453.70 331.21h-8.2M73.00 325.91h8.2M453.70 325.91h-8.2M73.00 321.59h8.2M453.70 321.59h-8.2M73.00 317.93h8.2M453.70 317.93h-8.2M73.00 314.76h8.2M453.70 314.76h-8.2M73.00 311.96h8.2M453.70 311.96h-8.2M73.00 309.46h15.5M453.70 309.46h-15.5M73.00 293.00h8.2M453.70 293.00h-8.2M73.00 283.37h8.2M453.70 283.37h-8.2M73.00 276.54h8.2M453.70 276.54h-8.2M73.00 271.24h8.2M453.70 271.24h-8.2M73.00 266.91h8.2M453.70 266.91h-8.2M73.00 263.25h8.2M453.70 263.25h-8.2M73.00 260.08h8.2M453.70 260.08h-8.2M73.00 257.29h8.2M453.70 257.29h-8.2M73.00 254.79h15.5M453.70 254.79h-15.5M73.00 238.33h8.2M453.70 238.33h-8.2M73.00 228.70h8.2M453.70 228.70h-8.2M73.00 221.87h8.2M453.70 221.87h-8.2M73.00 216.57h8.2M453.70 216.57h-8.2M73.00 212.24h8.2M453.70 212.24h-8.2M73.00 208.58h8.2M453.70 208.58h-8.2M73.00 205.41h8.2M453.70 205.41h-8.2M73.00 202.62h8.2M453.70 202.62h-8.2M73.00 200.11h15.5M453.70 200.11h-15.5M73.00 183.66h8.2M453.70 183.66h-8.2M73.00 174.03h8.2M453.70 174.03h-8.2M73.00 167.20h8.2M453.70 167.20h-8.2M73.00 161.90h8.2M453.70 161.90h-8.2M73.00 157.57h8.2M453.70 157.57h-8.2M73.00 153.91h8.2M453.70 153.91h-8.2M73.00 150.74h8.2M453.70 150.74h-8.2M73.00 147.94h8.2M453.70 147.94h-8.2M73.00 145.44h15.5M453.70 145.44h-15.5M73.00 128.99h8.2M453.70 128.99h-8.2M73.00 119.36h8.2M453.70 119.36h-8.2M73.00 112.53h8.2M453.70 112.53h-8.2M73.00 107.23h8.2M453.70 107.23h-8.2M73.00 102.90h8.2M453.70 102.90h-8.2M73.00 99.24h8.2M453.70 99.24h-8.2M73.00 96.07h8.2M453.70 96.07h-8.2M73.00 93.27h8.2M453.70 93.27h-8.2M73.00 90.77h15.5M453.70 90.77h-15.5M73.00 74.31h8.2M453.70 74.31h-8.2M73.00 64.69h8.2M453.70 64.69h-8.2M73.00 57.86h8.2M453.70 57.86h-8.2M73.00 52.56h8.2M453.70 52.56h-8.2M73.00 48.23h8.2M453.70 48.23h-8.2M73.00 44.57h8.2M453.70 44.57h-8.2M73.00 41.40h8.2M453.70 41.40h-8.2M73.00 38.60h8.2M453.70 38.60h-8.2" stroke="#000" stroke-width="1.15" fill="none"/>
<rect x="72.9" y="36.0" width="380.80" height="383.20" fill="none" stroke="#000" stroke-width="2.1"/>
<g font-size="20" fill="#000">
<text x="73.3" y="441.9" text-anchor="middle">0</text>
<text x="111.4" y="441.9" text-anchor="middle">1</text>
<text x="149.4" y="441.9" text-anchor="middle">2</text>
<text x="187.5" y="441.9" text-anchor="middle">3</text>
<text x="225.6" y="441.9" text-anchor="middle">4</text>
<text x="263.7" y="441.9" text-anchor="middle">5</text>
<text x="301.7" y="441.9" text-anchor="middle">6</text>
<text x="339.8" y="441.9" text-anchor="middle">7</text>
<text x="377.9" y="441.9" text-anchor="middle">8</text>
<text x="415.9" y="441.9" text-anchor="middle">9</text>
<text x="454.0" y="441.9" text-anchor="middle">10</text>
<text x="65.6" y="430.6" text-anchor="end">10<tspan dy="-13.6" font-size="14">-5</tspan></text>
<text x="65.6" y="375.9" text-anchor="end">10<tspan dy="-13.6" font-size="14">-4</tspan></text>
<text x="65.6" y="321.3" text-anchor="end">10<tspan dy="-13.6" font-size="14">-3</tspan></text>
<text x="65.6" y="266.6" text-anchor="end">10<tspan dy="-13.6" font-size="14">-2</tspan></text>
<text x="65.6" y="211.9" text-anchor="end">10<tspan dy="-13.6" font-size="14">-1</tspan></text>
<text x="65.6" y="157.2" text-anchor="end">10<tspan dy="-13.6" font-size="14">0</tspan></text>
<text x="65.6" y="102.6" text-anchor="end">10<tspan dy="-13.6" font-size="14">1</tspan></text>
<text x="65.6" y="47.9" text-anchor="end">10<tspan dy="-13.6" font-size="14">2</tspan></text>
</g>
<text x="40" y="119.8" font-size="15.5" fill="#ff00ff">3.6</text>
<!-- title -->
<g fill="#94487a" font-size="16.5">
<text x="85" y="15.1" font-family="Liberation Serif" font-size="19.5" fill="#670748" stroke="#670748" stroke-width="0.4">λ</text>
<text class="m" x="96.5" y="14.5" letter-spacing="0.9" xml:space="preserve"> = 0.531 , v<tspan dy="8" font-size="11.5">t</tspan><tspan dy="-8"> = 1 GeV , </tspan></text>
<text x="351.2" y="15.4" font-family="Liberation Serif" font-size="19" fill="#670748" stroke="#670748" stroke-width="0.4">μ</text>
<text class="m" x="363.5" y="14.5" letter-spacing="0.9" xml:space="preserve"> = 1 GeV</text>
</g>
<!-- x label -->
<g fill="#0000ff">
<text x="258.5" y="460.2" font-size="18">λ<tspan dy="5" font-size="12">1</tspan></text>
<!-- y label -->
<g transform="translate(21.7,262.5) rotate(-90)" fill="#3c3cff">
<text class="m" x="0" y="0" font-size="16.5" letter-spacing="0.9" xml:space="preserve">R<tspan dy="6" dx="1.2" font-size="12" letter-spacing="-1.5" font-family="Liberation Serif" font-style="normal" font-weight="bold">γγ</tspan><tspan dy="-6" dx="4.5">(h</tspan><tspan dy="-13" dx="0" font-size="11.5">0</tspan><tspan dy="13" dx="-0.9">)</tspan></text>
</g>
</g>
<!-- curve labels -->
<g>
<text transform="translate(368.5,69.5) rotate(-9)" fill="#bc8f8f" font-size="17.8">λ<tspan dy="6" font-size="11.7">4</tspan><tspan dy="-6"> = +1</tspan></text>
<text transform="translate(367.5,96) rotate(-8.5)" fill="#40e0d0" font-size="17.4">λ<tspan dy="6" font-size="11.5">4</tspan><tspan dy="-6"> = +0.8</tspan></text>
<text transform="translate(374,121.5) rotate(-9.5)" fill="#dcdcdc" font-size="17.3">λ<tspan dy="6" font-size="11.4">4</tspan><tspan dy="-6"> = +0.5</tspan></text>
<text transform="translate(366.5,157) rotate(-12.4)" fill="#0000ff" font-size="17.8">λ<tspan dy="6" font-size="11.7">4</tspan><tspan dy="-6"> = +0.12</tspan></text>
<text transform="translate(395,188.2) rotate(-17)" fill="#00ff00" font-size="17.5">λ<tspan dy="6" font-size="11.6">4</tspan><tspan dy="-6"> = 0.0</tspan></text>
<text transform="translate(395.4,247.2) rotate(-38)" fill="#ff0000" font-size="17.2">λ<tspan dy="6" font-size="11.5">4</tspan><tspan dy="-6"> = −0.5</tspan></text>
<text transform="translate(413.8,273.4) rotate(-50.5)" fill="#000000" font-size="17.2">λ<tspan dy="6" font-size="11.4">4</tspan><tspan dy="-6"> = −1</tspan></text>
</g>
<path d="M74.0 115.5H452.7" stroke="#ff62ff" stroke-width="2.7" fill="none"/>
</svg>
</body></html>
